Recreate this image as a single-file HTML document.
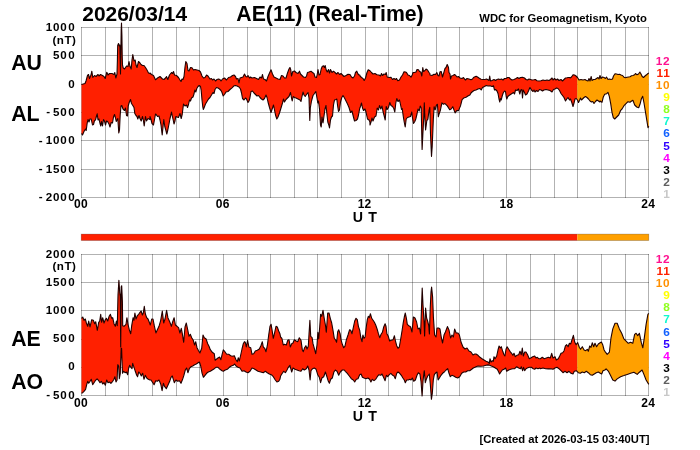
<!DOCTYPE html>
<html><head><meta charset="utf-8"><title>AE(11) (Real-Time)</title>
<style>html,body{margin:0;padding:0;background:#fff;}svg{display:block;font-family:"Liberation Sans",sans-serif;}</style>
</head><body>
<svg width="700" height="450" viewBox="0 0 700 450">
<rect width="700" height="450" fill="#fff"/>
<g stroke="#000" stroke-opacity="0.3" stroke-width="1" fill="none" shape-rendering="crispEdges"><line x1="81.50" y1="27" x2="81.50" y2="198"/><line x1="105.50" y1="27" x2="105.50" y2="198"/><line x1="128.50" y1="27" x2="128.50" y2="198"/><line x1="152.50" y1="27" x2="152.50" y2="198"/><line x1="176.50" y1="27" x2="176.50" y2="198"/><line x1="199.50" y1="27" x2="199.50" y2="198"/><line x1="223.50" y1="27" x2="223.50" y2="198"/><line x1="247.50" y1="27" x2="247.50" y2="198"/><line x1="270.50" y1="27" x2="270.50" y2="198"/><line x1="294.50" y1="27" x2="294.50" y2="198"/><line x1="317.50" y1="27" x2="317.50" y2="198"/><line x1="341.50" y1="27" x2="341.50" y2="198"/><line x1="365.50" y1="27" x2="365.50" y2="198"/><line x1="388.50" y1="27" x2="388.50" y2="198"/><line x1="412.50" y1="27" x2="412.50" y2="198"/><line x1="436.50" y1="27" x2="436.50" y2="198"/><line x1="459.50" y1="27" x2="459.50" y2="198"/><line x1="483.50" y1="27" x2="483.50" y2="198"/><line x1="506.50" y1="27" x2="506.50" y2="198"/><line x1="530.50" y1="27" x2="530.50" y2="198"/><line x1="554.50" y1="27" x2="554.50" y2="198"/><line x1="577.50" y1="27" x2="577.50" y2="198"/><line x1="601.50" y1="27" x2="601.50" y2="198"/><line x1="625.50" y1="27" x2="625.50" y2="198"/><line x1="648.50" y1="27" x2="648.50" y2="198"/><line x1="81" y1="27.50" x2="649" y2="27.50"/><line x1="81" y1="55.50" x2="649" y2="55.50"/><line x1="81" y1="84.50" x2="649" y2="84.50"/><line x1="81" y1="112.50" x2="649" y2="112.50"/><line x1="81" y1="140.50" x2="649" y2="140.50"/><line x1="81" y1="169.50" x2="649" y2="169.50"/><line x1="81" y1="197.50" x2="649" y2="197.50"/></g><g stroke="#000" stroke-opacity="0.3" stroke-width="1" fill="none" shape-rendering="crispEdges"><line x1="81.50" y1="254" x2="81.50" y2="396"/><line x1="105.50" y1="254" x2="105.50" y2="396"/><line x1="128.50" y1="254" x2="128.50" y2="396"/><line x1="152.50" y1="254" x2="152.50" y2="396"/><line x1="176.50" y1="254" x2="176.50" y2="396"/><line x1="199.50" y1="254" x2="199.50" y2="396"/><line x1="223.50" y1="254" x2="223.50" y2="396"/><line x1="247.50" y1="254" x2="247.50" y2="396"/><line x1="270.50" y1="254" x2="270.50" y2="396"/><line x1="294.50" y1="254" x2="294.50" y2="396"/><line x1="317.50" y1="254" x2="317.50" y2="396"/><line x1="341.50" y1="254" x2="341.50" y2="396"/><line x1="365.50" y1="254" x2="365.50" y2="396"/><line x1="388.50" y1="254" x2="388.50" y2="396"/><line x1="412.50" y1="254" x2="412.50" y2="396"/><line x1="436.50" y1="254" x2="436.50" y2="396"/><line x1="459.50" y1="254" x2="459.50" y2="396"/><line x1="483.50" y1="254" x2="483.50" y2="396"/><line x1="506.50" y1="254" x2="506.50" y2="396"/><line x1="530.50" y1="254" x2="530.50" y2="396"/><line x1="554.50" y1="254" x2="554.50" y2="396"/><line x1="577.50" y1="254" x2="577.50" y2="396"/><line x1="601.50" y1="254" x2="601.50" y2="396"/><line x1="625.50" y1="254" x2="625.50" y2="396"/><line x1="648.50" y1="254" x2="648.50" y2="396"/><line x1="81" y1="254.50" x2="649" y2="254.50"/><line x1="81" y1="282.50" x2="649" y2="282.50"/><line x1="81" y1="310.50" x2="649" y2="310.50"/><line x1="81" y1="339.50" x2="649" y2="339.50"/><line x1="81" y1="367.50" x2="649" y2="367.50"/><line x1="81" y1="395.50" x2="649" y2="395.50"/></g><clipPath id="cr1"><rect x="0" y="0" width="577.30" height="450"/></clipPath><clipPath id="co1"><rect x="577.30" y="0" width="200" height="450"/></clipPath><polygon points="81.5,84.5 85.0,83.5 86.0,81.0 87.5,75.5 88.5,74.5 89.5,78.5 91.0,75.0 91.8,71.2 92.8,77.5 94.5,75.5 96.0,76.5 98.0,74.5 99.0,76.0 100.5,74.5 102.5,75.5 104.0,76.5 105.2,78.5 106.8,72.2 108.0,75.0 109.5,73.5 112.0,73.5 114.0,74.5 114.8,72.5 115.8,78.0 117.0,74.0 117.4,60.0 117.7,45.5 118.5,43.5 119.3,46.0 119.8,45.0 120.2,60.0 120.5,74.0 120.8,55.0 121.2,30.0 121.5,23.0 121.9,35.0 122.2,55.0 122.5,65.0 123.2,67.8 124.5,69.0 126.5,66.0 128.0,66.5 129.0,61.5 130.0,66.5 131.2,69.0 132.0,60.0 132.8,54.5 134.0,61.0 135.2,60.0 136.0,65.0 137.0,67.5 138.5,61.5 140.0,63.0 141.0,64.5 142.5,65.5 144.0,65.5 145.5,67.5 147.0,70.0 148.5,73.0 149.9,73.5 150.0,73.0 151.5,74.5 153.5,75.5 155.5,79.8 157.5,78.0 160.0,76.5 162.5,79.0 164.0,79.5 166.0,77.5 166.5,76.5 167.8,79.5 169.5,75.0 171.5,72.5 172.5,73.5 173.5,71.5 174.5,75.0 176.5,75.5 178.5,77.5 180.0,80.0 181.0,81.5 182.0,79.0 183.0,79.5 184.0,76.5 185.0,67.0 185.8,61.5 187.0,63.5 188.0,70.5 189.0,71.0 190.5,67.5 192.0,67.8 193.5,70.0 195.0,69.5 197.0,70.0 199.0,70.5 200.5,72.0 202.0,76.0 203.5,78.0 205.0,77.5 206.5,75.0 208.0,76.0 210.0,79.0 211.5,78.5 212.5,80.0 214.0,79.0 215.5,81.0 217.0,79.5 218.5,79.0 219.9,79.5 220.0,79.5 221.0,81.0 222.5,79.0 224.5,78.0 226.5,80.0 228.5,77.5 230.5,77.0 232.5,75.5 234.0,75.0 235.5,76.5 236.5,79.0 238.0,78.5 239.0,83.0 240.0,78.0 241.5,77.5 243.0,77.0 244.5,74.0 245.8,76.5 247.0,77.0 248.0,75.5 249.5,78.0 250.5,77.0 252.0,78.0 254.5,77.5 256.5,78.5 258.5,79.5 260.0,77.0 261.5,78.0 262.5,74.5 263.5,79.0 265.0,79.5 266.5,81.0 268.0,76.5 269.5,73.0 271.0,69.8 272.5,74.0 274.0,77.0 276.0,78.0 278.0,79.0 280.0,79.5 281.5,75.5 283.0,76.0 284.5,78.0 286.0,78.0 287.5,73.0 289.0,69.0 289.9,67.5 290.0,67.5 290.8,70.0 291.5,76.0 292.8,71.5 294.5,71.0 296.0,72.5 298.0,73.5 299.5,71.2 300.5,74.0 302.0,75.5 303.5,77.0 305.5,77.5 306.5,76.0 307.5,72.5 309.0,72.0 311.0,71.2 312.5,72.5 314.0,73.5 315.0,77.0 316.5,77.5 317.2,74.5 318.0,69.5 319.0,75.0 320.0,74.5 321.2,69.0 322.2,66.5 323.5,65.8 324.5,67.5 325.2,65.5 326.2,70.0 327.2,72.0 328.5,69.5 329.5,73.0 330.5,69.5 332.0,72.5 333.5,71.2 335.0,72.5 336.5,74.0 338.0,72.5 339.5,74.5 341.0,73.5 342.5,75.0 344.0,76.5 346.0,75.5 348.0,74.2 350.0,74.5 351.5,77.0 353.0,78.0 354.5,76.0 355.5,72.5 356.8,71.2 358.0,74.0 359.0,75.0 359.9,75.0 360.0,76.0 361.5,77.5 363.0,78.5 364.2,80.5 365.5,78.0 367.0,72.5 368.2,69.8 370.0,70.8 371.5,72.5 373.0,74.0 375.0,73.5 377.0,74.8 379.0,75.0 380.5,76.0 381.5,73.5 382.5,75.5 384.0,74.0 385.5,74.5 386.2,72.5 387.2,77.0 389.0,77.5 391.0,77.2 392.5,79.5 394.0,78.5 395.5,79.5 396.5,78.5 397.8,80.8 399.5,80.0 401.0,77.0 402.5,75.0 404.0,71.8 405.5,72.0 406.5,72.5 408.0,75.0 409.5,75.5 411.0,77.2 412.2,75.0 413.0,72.5 414.5,72.5 416.0,72.0 417.0,69.5 418.5,69.8 419.5,71.5 420.8,72.0 421.8,76.0 422.8,67.5 423.5,71.5 425.0,70.5 426.0,69.0 427.5,70.0 429.0,72.5 429.9,73.5 430.0,75.0 432.0,75.5 434.0,74.2 435.5,74.5 436.8,72.5 438.0,75.5 439.0,76.0 440.0,71.8 441.2,71.5 442.5,77.0 444.0,72.0 445.0,68.5 446.0,67.5 447.2,64.5 448.5,67.5 449.0,72.5 450.0,74.0 450.5,79.0 451.5,76.0 453.0,75.5 454.5,74.5 455.8,75.5 457.0,77.0 458.5,76.5 460.0,78.0 462.0,78.5 463.5,77.5 464.5,79.0 465.5,80.0 467.0,78.5 469.0,79.0 471.0,79.8 472.5,79.0 473.5,77.5 475.0,76.8 476.2,76.3 477.5,77.0 479.0,78.0 481.0,79.2 483.0,79.5 485.0,79.5 486.5,79.0 488.0,79.8 489.0,80.5 489.7,76.0 490.5,81.0 492.0,80.5 494.0,79.5 495.5,80.5 497.0,79.5 498.5,79.0 499.9,79.5 500.0,79.5 501.5,79.0 503.0,80.0 504.5,78.5 506.0,78.5 507.5,77.5 509.0,77.5 510.5,79.0 512.0,80.0 514.0,79.5 516.0,78.5 517.5,77.5 519.0,78.5 520.5,77.5 522.5,77.2 524.5,78.0 526.0,79.5 527.5,80.0 529.0,79.0 530.5,79.5 532.0,80.0 534.0,79.8 535.5,79.5 537.0,80.8 539.0,81.0 541.0,80.8 543.0,80.0 545.0,80.5 547.0,80.0 549.0,80.5 550.5,79.5 552.0,78.0 553.0,80.0 554.5,78.5 556.0,80.0 557.5,79.0 559.0,80.5 561.0,79.5 562.5,81.0 564.0,79.5 565.5,78.0 567.0,77.8 568.5,77.5 569.9,77.5 570.0,78.0 571.5,77.0 573.0,74.8 574.5,75.0 576.0,76.0 577.5,77.5 579.0,80.0 581.0,79.5 583.0,80.0 585.0,79.5 586.5,80.5 588.0,81.0 589.0,78.5 590.0,81.0 591.2,76.5 592.0,80.5 593.5,79.5 595.0,79.5 596.5,78.5 598.0,77.5 599.0,79.0 600.0,75.5 601.0,78.5 602.5,77.0 604.0,77.5 605.5,78.5 606.5,77.0 608.0,79.5 609.5,79.0 611.0,79.5 612.5,79.0 613.5,76.0 615.0,73.8 616.5,74.0 618.0,74.5 619.5,74.2 621.0,75.0 622.5,75.5 624.0,77.2 625.5,77.8 627.0,77.2 628.5,77.0 630.0,76.8 631.5,75.8 633.0,75.5 634.5,74.8 635.5,73.5 637.0,74.8 638.5,74.0 639.9,72.0 640.0,72.2 641.0,74.0 642.2,76.5 643.5,77.5 645.0,76.0 646.5,74.8 648.0,73.5 648.8,73.0 648.8,126.3 648.0,127.7 646.7,119.7 645.3,111.0 644.0,103.0 642.7,96.3 641.3,99.0 640.0,104.3 638.7,107.7 636.7,107.0 634.7,105.0 632.9,100.3 631.6,101.0 630.0,102.3 628.0,101.7 626.0,103.7 624.0,105.7 622.0,109.0 620.7,110.3 618.7,115.0 616.7,117.0 614.7,119.0 613.3,117.7 612.0,112.3 610.7,103.7 609.3,96.3 608.0,92.3 606.7,93.7 604.7,94.3 603.3,97.0 602.0,102.3 600.0,101.0 599.9,102.0 598.5,101.0 597.0,100.0 595.5,101.5 594.0,103.5 592.8,101.5 591.5,102.0 590.0,101.0 588.5,99.0 587.0,97.5 585.5,96.5 584.0,97.5 582.5,99.0 581.5,100.0 580.5,98.0 579.5,100.5 578.5,102.5 577.5,100.0 576.2,98.5 575.0,99.0 574.0,103.0 573.0,106.5 571.8,102.5 570.5,99.0 569.5,100.0 568.0,97.5 566.8,99.0 565.5,101.0 564.0,97.5 562.5,95.5 561.0,93.5 559.5,90.5 558.0,88.5 556.5,88.0 555.0,89.0 553.5,89.5 552.0,92.0 550.0,90.5 548.0,90.0 546.0,89.5 544.0,90.0 542.5,91.0 541.0,90.0 539.5,89.5 538.0,91.5 536.5,90.5 535.0,92.0 534.0,90.0 533.0,91.5 531.5,90.0 530.0,87.5 529.9,87.5 528.5,91.0 527.0,94.0 525.5,95.0 524.5,92.5 523.2,90.0 522.5,98.0 521.8,89.5 520.8,90.0 519.8,94.0 518.5,89.0 517.0,90.5 515.5,90.0 514.5,94.0 513.5,92.5 512.0,93.5 510.5,94.5 509.0,95.5 507.8,96.5 506.8,99.0 506.2,96.5 505.5,91.5 504.5,91.0 503.2,93.0 502.2,96.0 501.2,100.0 500.5,98.5 499.8,102.0 499.0,99.0 498.0,93.5 497.0,91.0 495.5,89.5 494.5,90.0 493.5,85.8 492.0,86.5 490.0,85.8 488.0,86.0 486.2,85.5 484.5,86.5 482.5,87.5 481.2,90.0 480.0,88.5 478.0,89.0 476.0,90.0 474.0,90.5 472.0,92.0 471.0,93.0 469.9,95.0 468.3,95.8 466.0,97.3 463.7,98.1 462.1,99.7 460.5,105.9 458.5,110.6 456.7,110.6 455.1,112.9 452.8,106.7 451.2,109.0 449.7,109.8 447.3,105.9 445.0,103.6 443.4,104.3 441.9,102.8 440.3,110.6 439.2,113.7 438.3,116.8 437.4,104.3 436.4,105.1 435.2,109.8 434.1,106.7 433.3,119.9 432.2,146.3 431.5,156.4 430.5,133.9 429.8,107.4 429.0,110.6 427.9,119.1 426.8,120.7 425.6,130.0 424.9,118.3 424.3,102.8 423.7,118.3 422.8,135.4 422.1,149.4 421.2,108.0 420.2,106.0 419.2,111.0 418.0,109.0 417.0,114.0 415.8,119.0 414.8,121.5 413.5,123.5 412.5,118.0 411.8,112.0 410.5,116.5 409.0,117.0 407.5,117.5 406.2,119.0 405.2,127.0 404.2,122.0 403.2,116.0 402.2,108.5 401.5,109.5 400.5,104.5 399.5,100.0 398.0,101.5 396.8,98.5 395.8,103.0 394.8,112.0 393.8,108.5 392.5,106.5 391.0,105.5 389.8,102.5 388.5,107.5 387.2,109.5 386.2,106.5 385.2,120.0 384.2,116.0 383.0,111.5 382.0,106.0 380.8,109.0 379.5,105.5 378.5,110.0 377.2,108.0 376.0,116.0 374.5,117.0 373.0,121.0 372.0,118.0 371.0,122.0 370.0,125.0 369.9,122.0 369.0,120.0 367.5,119.0 366.0,112.0 365.0,109.0 363.5,110.5 362.5,108.0 361.5,103.0 360.5,106.5 359.7,108.5 358.5,115.0 357.5,119.0 356.0,120.5 354.5,121.0 353.2,116.0 352.0,111.0 350.5,112.5 349.0,107.5 347.5,104.0 346.0,101.0 344.5,98.0 343.0,95.5 341.8,97.5 340.5,102.0 339.5,110.0 338.5,111.5 337.5,105.0 336.8,99.0 336.0,99.5 334.5,100.0 333.5,105.0 332.5,116.0 331.5,117.0 330.5,120.0 329.5,128.0 328.8,125.0 327.8,122.0 326.8,113.0 326.0,105.5 325.0,109.0 324.0,116.0 323.0,123.0 322.0,117.0 321.2,127.0 320.5,125.0 319.5,109.0 318.5,101.0 317.8,103.0 316.8,97.0 315.8,91.5 314.5,93.5 313.0,95.5 311.5,101.0 310.3,108.0 309.8,120.5 309.4,110.0 309.0,98.0 308.0,92.5 306.5,94.5 305.2,96.5 304.0,95.0 303.0,92.0 302.0,96.5 301.0,101.5 300.0,100.0 298.0,99.0 296.0,98.0 294.5,97.5 293.2,96.5 292.2,101.0 291.5,98.0 290.5,92.5 289.0,96.5 287.5,98.0 286.0,99.5 284.5,102.0 283.5,99.0 282.5,103.0 281.0,108.0 279.5,113.0 278.0,117.0 276.8,119.0 275.5,115.0 274.5,110.0 273.5,105.0 272.5,108.0 271.0,112.5 269.5,107.5 268.0,102.0 267.0,97.5 266.0,95.0 264.5,98.5 263.0,100.0 261.5,99.0 260.0,97.5 258.5,95.5 257.0,96.0 255.5,94.5 254.0,93.0 252.5,91.0 251.0,91.5 249.9,98.0 249.0,101.0 248.0,102.5 246.5,99.0 245.5,98.0 244.0,100.0 242.5,98.5 241.5,93.0 240.5,89.0 239.0,87.0 237.0,86.0 235.5,85.5 234.0,85.8 232.0,87.8 230.0,89.5 228.0,91.5 226.0,92.0 224.5,94.5 223.2,96.0 222.0,92.5 221.0,90.5 219.5,89.0 218.0,88.0 216.5,87.5 215.0,89.5 214.0,93.5 213.0,92.5 211.5,95.0 210.0,97.5 208.5,99.0 207.0,101.5 205.5,104.0 204.0,108.0 203.3,109.5 202.8,107.0 202.0,100.0 201.2,90.5 200.5,86.5 199.2,85.5 198.0,86.5 196.8,88.5 195.8,92.0 194.8,90.0 194.0,94.0 193.0,97.0 191.5,98.0 190.5,101.0 189.5,100.0 188.5,104.5 187.5,107.5 186.5,105.0 185.0,106.0 183.5,104.0 182.2,114.5 181.2,118.5 180.0,113.5 178.5,117.5 177.0,117.0 175.8,116.5 175.0,121.0 174.0,124.0 173.2,120.0 172.5,117.0 171.5,112.0 171.0,114.5 170.0,118.5 169.0,124.0 167.8,130.0 166.8,134.0 165.8,130.0 164.8,126.5 163.8,119.5 163.2,125.0 162.2,135.0 161.0,125.0 160.0,120.0 159.0,116.0 157.5,116.5 156.5,115.0 155.5,114.0 154.5,119.5 153.5,125.0 152.0,123.5 151.0,119.5 150.0,116.5 149.9,119.5 148.0,118.5 146.5,121.0 145.5,116.5 144.2,126.0 143.5,121.0 142.5,116.5 141.2,121.0 140.0,118.5 139.0,115.5 137.8,119.0 137.0,116.5 136.0,115.5 134.8,113.5 134.0,107.5 132.8,105.5 131.5,103.5 130.5,99.5 129.2,102.5 128.2,106.0 127.5,116.0 126.5,115.5 125.5,108.0 124.5,110.5 123.0,109.0 121.8,105.5 121.0,106.0 120.2,115.0 119.5,130.0 118.8,133.0 117.8,118.5 116.2,121.5 115.5,118.0 114.5,114.5 113.5,117.0 112.5,123.0 111.2,122.5 110.0,127.0 109.0,124.0 107.5,121.5 106.5,121.0 105.5,125.0 104.5,121.0 103.5,119.5 102.5,126.0 101.5,121.5 100.8,126.0 100.0,123.5 99.0,119.0 98.0,120.0 97.2,113.8 96.5,116.0 95.5,120.0 94.5,120.5 93.5,124.5 92.5,125.0 91.2,119.0 90.0,119.0 89.0,122.0 88.0,119.5 87.2,123.0 86.2,130.5 85.5,129.0 84.0,131.5 82.5,135.0 81.5,133.5" fill="#ff2000" clip-path="url(#cr1)"/><polygon points="81.5,84.5 85.0,83.5 86.0,81.0 87.5,75.5 88.5,74.5 89.5,78.5 91.0,75.0 91.8,71.2 92.8,77.5 94.5,75.5 96.0,76.5 98.0,74.5 99.0,76.0 100.5,74.5 102.5,75.5 104.0,76.5 105.2,78.5 106.8,72.2 108.0,75.0 109.5,73.5 112.0,73.5 114.0,74.5 114.8,72.5 115.8,78.0 117.0,74.0 117.4,60.0 117.7,45.5 118.5,43.5 119.3,46.0 119.8,45.0 120.2,60.0 120.5,74.0 120.8,55.0 121.2,30.0 121.5,23.0 121.9,35.0 122.2,55.0 122.5,65.0 123.2,67.8 124.5,69.0 126.5,66.0 128.0,66.5 129.0,61.5 130.0,66.5 131.2,69.0 132.0,60.0 132.8,54.5 134.0,61.0 135.2,60.0 136.0,65.0 137.0,67.5 138.5,61.5 140.0,63.0 141.0,64.5 142.5,65.5 144.0,65.5 145.5,67.5 147.0,70.0 148.5,73.0 149.9,73.5 150.0,73.0 151.5,74.5 153.5,75.5 155.5,79.8 157.5,78.0 160.0,76.5 162.5,79.0 164.0,79.5 166.0,77.5 166.5,76.5 167.8,79.5 169.5,75.0 171.5,72.5 172.5,73.5 173.5,71.5 174.5,75.0 176.5,75.5 178.5,77.5 180.0,80.0 181.0,81.5 182.0,79.0 183.0,79.5 184.0,76.5 185.0,67.0 185.8,61.5 187.0,63.5 188.0,70.5 189.0,71.0 190.5,67.5 192.0,67.8 193.5,70.0 195.0,69.5 197.0,70.0 199.0,70.5 200.5,72.0 202.0,76.0 203.5,78.0 205.0,77.5 206.5,75.0 208.0,76.0 210.0,79.0 211.5,78.5 212.5,80.0 214.0,79.0 215.5,81.0 217.0,79.5 218.5,79.0 219.9,79.5 220.0,79.5 221.0,81.0 222.5,79.0 224.5,78.0 226.5,80.0 228.5,77.5 230.5,77.0 232.5,75.5 234.0,75.0 235.5,76.5 236.5,79.0 238.0,78.5 239.0,83.0 240.0,78.0 241.5,77.5 243.0,77.0 244.5,74.0 245.8,76.5 247.0,77.0 248.0,75.5 249.5,78.0 250.5,77.0 252.0,78.0 254.5,77.5 256.5,78.5 258.5,79.5 260.0,77.0 261.5,78.0 262.5,74.5 263.5,79.0 265.0,79.5 266.5,81.0 268.0,76.5 269.5,73.0 271.0,69.8 272.5,74.0 274.0,77.0 276.0,78.0 278.0,79.0 280.0,79.5 281.5,75.5 283.0,76.0 284.5,78.0 286.0,78.0 287.5,73.0 289.0,69.0 289.9,67.5 290.0,67.5 290.8,70.0 291.5,76.0 292.8,71.5 294.5,71.0 296.0,72.5 298.0,73.5 299.5,71.2 300.5,74.0 302.0,75.5 303.5,77.0 305.5,77.5 306.5,76.0 307.5,72.5 309.0,72.0 311.0,71.2 312.5,72.5 314.0,73.5 315.0,77.0 316.5,77.5 317.2,74.5 318.0,69.5 319.0,75.0 320.0,74.5 321.2,69.0 322.2,66.5 323.5,65.8 324.5,67.5 325.2,65.5 326.2,70.0 327.2,72.0 328.5,69.5 329.5,73.0 330.5,69.5 332.0,72.5 333.5,71.2 335.0,72.5 336.5,74.0 338.0,72.5 339.5,74.5 341.0,73.5 342.5,75.0 344.0,76.5 346.0,75.5 348.0,74.2 350.0,74.5 351.5,77.0 353.0,78.0 354.5,76.0 355.5,72.5 356.8,71.2 358.0,74.0 359.0,75.0 359.9,75.0 360.0,76.0 361.5,77.5 363.0,78.5 364.2,80.5 365.5,78.0 367.0,72.5 368.2,69.8 370.0,70.8 371.5,72.5 373.0,74.0 375.0,73.5 377.0,74.8 379.0,75.0 380.5,76.0 381.5,73.5 382.5,75.5 384.0,74.0 385.5,74.5 386.2,72.5 387.2,77.0 389.0,77.5 391.0,77.2 392.5,79.5 394.0,78.5 395.5,79.5 396.5,78.5 397.8,80.8 399.5,80.0 401.0,77.0 402.5,75.0 404.0,71.8 405.5,72.0 406.5,72.5 408.0,75.0 409.5,75.5 411.0,77.2 412.2,75.0 413.0,72.5 414.5,72.5 416.0,72.0 417.0,69.5 418.5,69.8 419.5,71.5 420.8,72.0 421.8,76.0 422.8,67.5 423.5,71.5 425.0,70.5 426.0,69.0 427.5,70.0 429.0,72.5 429.9,73.5 430.0,75.0 432.0,75.5 434.0,74.2 435.5,74.5 436.8,72.5 438.0,75.5 439.0,76.0 440.0,71.8 441.2,71.5 442.5,77.0 444.0,72.0 445.0,68.5 446.0,67.5 447.2,64.5 448.5,67.5 449.0,72.5 450.0,74.0 450.5,79.0 451.5,76.0 453.0,75.5 454.5,74.5 455.8,75.5 457.0,77.0 458.5,76.5 460.0,78.0 462.0,78.5 463.5,77.5 464.5,79.0 465.5,80.0 467.0,78.5 469.0,79.0 471.0,79.8 472.5,79.0 473.5,77.5 475.0,76.8 476.2,76.3 477.5,77.0 479.0,78.0 481.0,79.2 483.0,79.5 485.0,79.5 486.5,79.0 488.0,79.8 489.0,80.5 489.7,76.0 490.5,81.0 492.0,80.5 494.0,79.5 495.5,80.5 497.0,79.5 498.5,79.0 499.9,79.5 500.0,79.5 501.5,79.0 503.0,80.0 504.5,78.5 506.0,78.5 507.5,77.5 509.0,77.5 510.5,79.0 512.0,80.0 514.0,79.5 516.0,78.5 517.5,77.5 519.0,78.5 520.5,77.5 522.5,77.2 524.5,78.0 526.0,79.5 527.5,80.0 529.0,79.0 530.5,79.5 532.0,80.0 534.0,79.8 535.5,79.5 537.0,80.8 539.0,81.0 541.0,80.8 543.0,80.0 545.0,80.5 547.0,80.0 549.0,80.5 550.5,79.5 552.0,78.0 553.0,80.0 554.5,78.5 556.0,80.0 557.5,79.0 559.0,80.5 561.0,79.5 562.5,81.0 564.0,79.5 565.5,78.0 567.0,77.8 568.5,77.5 569.9,77.5 570.0,78.0 571.5,77.0 573.0,74.8 574.5,75.0 576.0,76.0 577.5,77.5 579.0,80.0 581.0,79.5 583.0,80.0 585.0,79.5 586.5,80.5 588.0,81.0 589.0,78.5 590.0,81.0 591.2,76.5 592.0,80.5 593.5,79.5 595.0,79.5 596.5,78.5 598.0,77.5 599.0,79.0 600.0,75.5 601.0,78.5 602.5,77.0 604.0,77.5 605.5,78.5 606.5,77.0 608.0,79.5 609.5,79.0 611.0,79.5 612.5,79.0 613.5,76.0 615.0,73.8 616.5,74.0 618.0,74.5 619.5,74.2 621.0,75.0 622.5,75.5 624.0,77.2 625.5,77.8 627.0,77.2 628.5,77.0 630.0,76.8 631.5,75.8 633.0,75.5 634.5,74.8 635.5,73.5 637.0,74.8 638.5,74.0 639.9,72.0 640.0,72.2 641.0,74.0 642.2,76.5 643.5,77.5 645.0,76.0 646.5,74.8 648.0,73.5 648.8,73.0 648.8,126.3 648.0,127.7 646.7,119.7 645.3,111.0 644.0,103.0 642.7,96.3 641.3,99.0 640.0,104.3 638.7,107.7 636.7,107.0 634.7,105.0 632.9,100.3 631.6,101.0 630.0,102.3 628.0,101.7 626.0,103.7 624.0,105.7 622.0,109.0 620.7,110.3 618.7,115.0 616.7,117.0 614.7,119.0 613.3,117.7 612.0,112.3 610.7,103.7 609.3,96.3 608.0,92.3 606.7,93.7 604.7,94.3 603.3,97.0 602.0,102.3 600.0,101.0 599.9,102.0 598.5,101.0 597.0,100.0 595.5,101.5 594.0,103.5 592.8,101.5 591.5,102.0 590.0,101.0 588.5,99.0 587.0,97.5 585.5,96.5 584.0,97.5 582.5,99.0 581.5,100.0 580.5,98.0 579.5,100.5 578.5,102.5 577.5,100.0 576.2,98.5 575.0,99.0 574.0,103.0 573.0,106.5 571.8,102.5 570.5,99.0 569.5,100.0 568.0,97.5 566.8,99.0 565.5,101.0 564.0,97.5 562.5,95.5 561.0,93.5 559.5,90.5 558.0,88.5 556.5,88.0 555.0,89.0 553.5,89.5 552.0,92.0 550.0,90.5 548.0,90.0 546.0,89.5 544.0,90.0 542.5,91.0 541.0,90.0 539.5,89.5 538.0,91.5 536.5,90.5 535.0,92.0 534.0,90.0 533.0,91.5 531.5,90.0 530.0,87.5 529.9,87.5 528.5,91.0 527.0,94.0 525.5,95.0 524.5,92.5 523.2,90.0 522.5,98.0 521.8,89.5 520.8,90.0 519.8,94.0 518.5,89.0 517.0,90.5 515.5,90.0 514.5,94.0 513.5,92.5 512.0,93.5 510.5,94.5 509.0,95.5 507.8,96.5 506.8,99.0 506.2,96.5 505.5,91.5 504.5,91.0 503.2,93.0 502.2,96.0 501.2,100.0 500.5,98.5 499.8,102.0 499.0,99.0 498.0,93.5 497.0,91.0 495.5,89.5 494.5,90.0 493.5,85.8 492.0,86.5 490.0,85.8 488.0,86.0 486.2,85.5 484.5,86.5 482.5,87.5 481.2,90.0 480.0,88.5 478.0,89.0 476.0,90.0 474.0,90.5 472.0,92.0 471.0,93.0 469.9,95.0 468.3,95.8 466.0,97.3 463.7,98.1 462.1,99.7 460.5,105.9 458.5,110.6 456.7,110.6 455.1,112.9 452.8,106.7 451.2,109.0 449.7,109.8 447.3,105.9 445.0,103.6 443.4,104.3 441.9,102.8 440.3,110.6 439.2,113.7 438.3,116.8 437.4,104.3 436.4,105.1 435.2,109.8 434.1,106.7 433.3,119.9 432.2,146.3 431.5,156.4 430.5,133.9 429.8,107.4 429.0,110.6 427.9,119.1 426.8,120.7 425.6,130.0 424.9,118.3 424.3,102.8 423.7,118.3 422.8,135.4 422.1,149.4 421.2,108.0 420.2,106.0 419.2,111.0 418.0,109.0 417.0,114.0 415.8,119.0 414.8,121.5 413.5,123.5 412.5,118.0 411.8,112.0 410.5,116.5 409.0,117.0 407.5,117.5 406.2,119.0 405.2,127.0 404.2,122.0 403.2,116.0 402.2,108.5 401.5,109.5 400.5,104.5 399.5,100.0 398.0,101.5 396.8,98.5 395.8,103.0 394.8,112.0 393.8,108.5 392.5,106.5 391.0,105.5 389.8,102.5 388.5,107.5 387.2,109.5 386.2,106.5 385.2,120.0 384.2,116.0 383.0,111.5 382.0,106.0 380.8,109.0 379.5,105.5 378.5,110.0 377.2,108.0 376.0,116.0 374.5,117.0 373.0,121.0 372.0,118.0 371.0,122.0 370.0,125.0 369.9,122.0 369.0,120.0 367.5,119.0 366.0,112.0 365.0,109.0 363.5,110.5 362.5,108.0 361.5,103.0 360.5,106.5 359.7,108.5 358.5,115.0 357.5,119.0 356.0,120.5 354.5,121.0 353.2,116.0 352.0,111.0 350.5,112.5 349.0,107.5 347.5,104.0 346.0,101.0 344.5,98.0 343.0,95.5 341.8,97.5 340.5,102.0 339.5,110.0 338.5,111.5 337.5,105.0 336.8,99.0 336.0,99.5 334.5,100.0 333.5,105.0 332.5,116.0 331.5,117.0 330.5,120.0 329.5,128.0 328.8,125.0 327.8,122.0 326.8,113.0 326.0,105.5 325.0,109.0 324.0,116.0 323.0,123.0 322.0,117.0 321.2,127.0 320.5,125.0 319.5,109.0 318.5,101.0 317.8,103.0 316.8,97.0 315.8,91.5 314.5,93.5 313.0,95.5 311.5,101.0 310.3,108.0 309.8,120.5 309.4,110.0 309.0,98.0 308.0,92.5 306.5,94.5 305.2,96.5 304.0,95.0 303.0,92.0 302.0,96.5 301.0,101.5 300.0,100.0 298.0,99.0 296.0,98.0 294.5,97.5 293.2,96.5 292.2,101.0 291.5,98.0 290.5,92.5 289.0,96.5 287.5,98.0 286.0,99.5 284.5,102.0 283.5,99.0 282.5,103.0 281.0,108.0 279.5,113.0 278.0,117.0 276.8,119.0 275.5,115.0 274.5,110.0 273.5,105.0 272.5,108.0 271.0,112.5 269.5,107.5 268.0,102.0 267.0,97.5 266.0,95.0 264.5,98.5 263.0,100.0 261.5,99.0 260.0,97.5 258.5,95.5 257.0,96.0 255.5,94.5 254.0,93.0 252.5,91.0 251.0,91.5 249.9,98.0 249.0,101.0 248.0,102.5 246.5,99.0 245.5,98.0 244.0,100.0 242.5,98.5 241.5,93.0 240.5,89.0 239.0,87.0 237.0,86.0 235.5,85.5 234.0,85.8 232.0,87.8 230.0,89.5 228.0,91.5 226.0,92.0 224.5,94.5 223.2,96.0 222.0,92.5 221.0,90.5 219.5,89.0 218.0,88.0 216.5,87.5 215.0,89.5 214.0,93.5 213.0,92.5 211.5,95.0 210.0,97.5 208.5,99.0 207.0,101.5 205.5,104.0 204.0,108.0 203.3,109.5 202.8,107.0 202.0,100.0 201.2,90.5 200.5,86.5 199.2,85.5 198.0,86.5 196.8,88.5 195.8,92.0 194.8,90.0 194.0,94.0 193.0,97.0 191.5,98.0 190.5,101.0 189.5,100.0 188.5,104.5 187.5,107.5 186.5,105.0 185.0,106.0 183.5,104.0 182.2,114.5 181.2,118.5 180.0,113.5 178.5,117.5 177.0,117.0 175.8,116.5 175.0,121.0 174.0,124.0 173.2,120.0 172.5,117.0 171.5,112.0 171.0,114.5 170.0,118.5 169.0,124.0 167.8,130.0 166.8,134.0 165.8,130.0 164.8,126.5 163.8,119.5 163.2,125.0 162.2,135.0 161.0,125.0 160.0,120.0 159.0,116.0 157.5,116.5 156.5,115.0 155.5,114.0 154.5,119.5 153.5,125.0 152.0,123.5 151.0,119.5 150.0,116.5 149.9,119.5 148.0,118.5 146.5,121.0 145.5,116.5 144.2,126.0 143.5,121.0 142.5,116.5 141.2,121.0 140.0,118.5 139.0,115.5 137.8,119.0 137.0,116.5 136.0,115.5 134.8,113.5 134.0,107.5 132.8,105.5 131.5,103.5 130.5,99.5 129.2,102.5 128.2,106.0 127.5,116.0 126.5,115.5 125.5,108.0 124.5,110.5 123.0,109.0 121.8,105.5 121.0,106.0 120.2,115.0 119.5,130.0 118.8,133.0 117.8,118.5 116.2,121.5 115.5,118.0 114.5,114.5 113.5,117.0 112.5,123.0 111.2,122.5 110.0,127.0 109.0,124.0 107.5,121.5 106.5,121.0 105.5,125.0 104.5,121.0 103.5,119.5 102.5,126.0 101.5,121.5 100.8,126.0 100.0,123.5 99.0,119.0 98.0,120.0 97.2,113.8 96.5,116.0 95.5,120.0 94.5,120.5 93.5,124.5 92.5,125.0 91.2,119.0 90.0,119.0 89.0,122.0 88.0,119.5 87.2,123.0 86.2,130.5 85.5,129.0 84.0,131.5 82.5,135.0 81.5,133.5" fill="#ffa000" clip-path="url(#co1)"/><polyline points="81.5,84.5 85.0,83.5 86.0,81.0 87.5,75.5 88.5,74.5 89.5,78.5 91.0,75.0 91.8,71.2 92.8,77.5 94.5,75.5 96.0,76.5 98.0,74.5 99.0,76.0 100.5,74.5 102.5,75.5 104.0,76.5 105.2,78.5 106.8,72.2 108.0,75.0 109.5,73.5 112.0,73.5 114.0,74.5 114.8,72.5 115.8,78.0 117.0,74.0 117.4,60.0 117.7,45.5 118.5,43.5 119.3,46.0 119.8,45.0 120.2,60.0 120.5,74.0 120.8,55.0 121.2,30.0 121.5,23.0 121.9,35.0 122.2,55.0 122.5,65.0 123.2,67.8 124.5,69.0 126.5,66.0 128.0,66.5 129.0,61.5 130.0,66.5 131.2,69.0 132.0,60.0 132.8,54.5 134.0,61.0 135.2,60.0 136.0,65.0 137.0,67.5 138.5,61.5 140.0,63.0 141.0,64.5 142.5,65.5 144.0,65.5 145.5,67.5 147.0,70.0 148.5,73.0 149.9,73.5 150.0,73.0 151.5,74.5 153.5,75.5 155.5,79.8 157.5,78.0 160.0,76.5 162.5,79.0 164.0,79.5 166.0,77.5 166.5,76.5 167.8,79.5 169.5,75.0 171.5,72.5 172.5,73.5 173.5,71.5 174.5,75.0 176.5,75.5 178.5,77.5 180.0,80.0 181.0,81.5 182.0,79.0 183.0,79.5 184.0,76.5 185.0,67.0 185.8,61.5 187.0,63.5 188.0,70.5 189.0,71.0 190.5,67.5 192.0,67.8 193.5,70.0 195.0,69.5 197.0,70.0 199.0,70.5 200.5,72.0 202.0,76.0 203.5,78.0 205.0,77.5 206.5,75.0 208.0,76.0 210.0,79.0 211.5,78.5 212.5,80.0 214.0,79.0 215.5,81.0 217.0,79.5 218.5,79.0 219.9,79.5 220.0,79.5 221.0,81.0 222.5,79.0 224.5,78.0 226.5,80.0 228.5,77.5 230.5,77.0 232.5,75.5 234.0,75.0 235.5,76.5 236.5,79.0 238.0,78.5 239.0,83.0 240.0,78.0 241.5,77.5 243.0,77.0 244.5,74.0 245.8,76.5 247.0,77.0 248.0,75.5 249.5,78.0 250.5,77.0 252.0,78.0 254.5,77.5 256.5,78.5 258.5,79.5 260.0,77.0 261.5,78.0 262.5,74.5 263.5,79.0 265.0,79.5 266.5,81.0 268.0,76.5 269.5,73.0 271.0,69.8 272.5,74.0 274.0,77.0 276.0,78.0 278.0,79.0 280.0,79.5 281.5,75.5 283.0,76.0 284.5,78.0 286.0,78.0 287.5,73.0 289.0,69.0 289.9,67.5 290.0,67.5 290.8,70.0 291.5,76.0 292.8,71.5 294.5,71.0 296.0,72.5 298.0,73.5 299.5,71.2 300.5,74.0 302.0,75.5 303.5,77.0 305.5,77.5 306.5,76.0 307.5,72.5 309.0,72.0 311.0,71.2 312.5,72.5 314.0,73.5 315.0,77.0 316.5,77.5 317.2,74.5 318.0,69.5 319.0,75.0 320.0,74.5 321.2,69.0 322.2,66.5 323.5,65.8 324.5,67.5 325.2,65.5 326.2,70.0 327.2,72.0 328.5,69.5 329.5,73.0 330.5,69.5 332.0,72.5 333.5,71.2 335.0,72.5 336.5,74.0 338.0,72.5 339.5,74.5 341.0,73.5 342.5,75.0 344.0,76.5 346.0,75.5 348.0,74.2 350.0,74.5 351.5,77.0 353.0,78.0 354.5,76.0 355.5,72.5 356.8,71.2 358.0,74.0 359.0,75.0 359.9,75.0 360.0,76.0 361.5,77.5 363.0,78.5 364.2,80.5 365.5,78.0 367.0,72.5 368.2,69.8 370.0,70.8 371.5,72.5 373.0,74.0 375.0,73.5 377.0,74.8 379.0,75.0 380.5,76.0 381.5,73.5 382.5,75.5 384.0,74.0 385.5,74.5 386.2,72.5 387.2,77.0 389.0,77.5 391.0,77.2 392.5,79.5 394.0,78.5 395.5,79.5 396.5,78.5 397.8,80.8 399.5,80.0 401.0,77.0 402.5,75.0 404.0,71.8 405.5,72.0 406.5,72.5 408.0,75.0 409.5,75.5 411.0,77.2 412.2,75.0 413.0,72.5 414.5,72.5 416.0,72.0 417.0,69.5 418.5,69.8 419.5,71.5 420.8,72.0 421.8,76.0 422.8,67.5 423.5,71.5 425.0,70.5 426.0,69.0 427.5,70.0 429.0,72.5 429.9,73.5 430.0,75.0 432.0,75.5 434.0,74.2 435.5,74.5 436.8,72.5 438.0,75.5 439.0,76.0 440.0,71.8 441.2,71.5 442.5,77.0 444.0,72.0 445.0,68.5 446.0,67.5 447.2,64.5 448.5,67.5 449.0,72.5 450.0,74.0 450.5,79.0 451.5,76.0 453.0,75.5 454.5,74.5 455.8,75.5 457.0,77.0 458.5,76.5 460.0,78.0 462.0,78.5 463.5,77.5 464.5,79.0 465.5,80.0 467.0,78.5 469.0,79.0 471.0,79.8 472.5,79.0 473.5,77.5 475.0,76.8 476.2,76.3 477.5,77.0 479.0,78.0 481.0,79.2 483.0,79.5 485.0,79.5 486.5,79.0 488.0,79.8 489.0,80.5 489.7,76.0 490.5,81.0 492.0,80.5 494.0,79.5 495.5,80.5 497.0,79.5 498.5,79.0 499.9,79.5 500.0,79.5 501.5,79.0 503.0,80.0 504.5,78.5 506.0,78.5 507.5,77.5 509.0,77.5 510.5,79.0 512.0,80.0 514.0,79.5 516.0,78.5 517.5,77.5 519.0,78.5 520.5,77.5 522.5,77.2 524.5,78.0 526.0,79.5 527.5,80.0 529.0,79.0 530.5,79.5 532.0,80.0 534.0,79.8 535.5,79.5 537.0,80.8 539.0,81.0 541.0,80.8 543.0,80.0 545.0,80.5 547.0,80.0 549.0,80.5 550.5,79.5 552.0,78.0 553.0,80.0 554.5,78.5 556.0,80.0 557.5,79.0 559.0,80.5 561.0,79.5 562.5,81.0 564.0,79.5 565.5,78.0 567.0,77.8 568.5,77.5 569.9,77.5 570.0,78.0 571.5,77.0 573.0,74.8 574.5,75.0 576.0,76.0 577.5,77.5 579.0,80.0 581.0,79.5 583.0,80.0 585.0,79.5 586.5,80.5 588.0,81.0 589.0,78.5 590.0,81.0 591.2,76.5 592.0,80.5 593.5,79.5 595.0,79.5 596.5,78.5 598.0,77.5 599.0,79.0 600.0,75.5 601.0,78.5 602.5,77.0 604.0,77.5 605.5,78.5 606.5,77.0 608.0,79.5 609.5,79.0 611.0,79.5 612.5,79.0 613.5,76.0 615.0,73.8 616.5,74.0 618.0,74.5 619.5,74.2 621.0,75.0 622.5,75.5 624.0,77.2 625.5,77.8 627.0,77.2 628.5,77.0 630.0,76.8 631.5,75.8 633.0,75.5 634.5,74.8 635.5,73.5 637.0,74.8 638.5,74.0 639.9,72.0 640.0,72.2 641.0,74.0 642.2,76.5 643.5,77.5 645.0,76.0 646.5,74.8 648.0,73.5 648.8,73.0" fill="none" stroke="#200000" stroke-width="1.1" stroke-linejoin="round"/><polyline points="81.5,133.5 82.5,135.0 84.0,131.5 85.5,129.0 86.2,130.5 87.2,123.0 88.0,119.5 89.0,122.0 90.0,119.0 91.2,119.0 92.5,125.0 93.5,124.5 94.5,120.5 95.5,120.0 96.5,116.0 97.2,113.8 98.0,120.0 99.0,119.0 100.0,123.5 100.8,126.0 101.5,121.5 102.5,126.0 103.5,119.5 104.5,121.0 105.5,125.0 106.5,121.0 107.5,121.5 109.0,124.0 110.0,127.0 111.2,122.5 112.5,123.0 113.5,117.0 114.5,114.5 115.5,118.0 116.2,121.5 117.8,118.5 118.8,133.0 119.5,130.0 120.2,115.0 121.0,106.0 121.8,105.5 123.0,109.0 124.5,110.5 125.5,108.0 126.5,115.5 127.5,116.0 128.2,106.0 129.2,102.5 130.5,99.5 131.5,103.5 132.8,105.5 134.0,107.5 134.8,113.5 136.0,115.5 137.0,116.5 137.8,119.0 139.0,115.5 140.0,118.5 141.2,121.0 142.5,116.5 143.5,121.0 144.2,126.0 145.5,116.5 146.5,121.0 148.0,118.5 149.9,119.5 150.0,116.5 151.0,119.5 152.0,123.5 153.5,125.0 154.5,119.5 155.5,114.0 156.5,115.0 157.5,116.5 159.0,116.0 160.0,120.0 161.0,125.0 162.2,135.0 163.2,125.0 163.8,119.5 164.8,126.5 165.8,130.0 166.8,134.0 167.8,130.0 169.0,124.0 170.0,118.5 171.0,114.5 171.5,112.0 172.5,117.0 173.2,120.0 174.0,124.0 175.0,121.0 175.8,116.5 177.0,117.0 178.5,117.5 180.0,113.5 181.2,118.5 182.2,114.5 183.5,104.0 185.0,106.0 186.5,105.0 187.5,107.5 188.5,104.5 189.5,100.0 190.5,101.0 191.5,98.0 193.0,97.0 194.0,94.0 194.8,90.0 195.8,92.0 196.8,88.5 198.0,86.5 199.2,85.5 200.5,86.5 201.2,90.5 202.0,100.0 202.8,107.0 203.3,109.5 204.0,108.0 205.5,104.0 207.0,101.5 208.5,99.0 210.0,97.5 211.5,95.0 213.0,92.5 214.0,93.5 215.0,89.5 216.5,87.5 218.0,88.0 219.5,89.0 221.0,90.5 222.0,92.5 223.2,96.0 224.5,94.5 226.0,92.0 228.0,91.5 230.0,89.5 232.0,87.8 234.0,85.8 235.5,85.5 237.0,86.0 239.0,87.0 240.5,89.0 241.5,93.0 242.5,98.5 244.0,100.0 245.5,98.0 246.5,99.0 248.0,102.5 249.0,101.0 249.9,98.0 251.0,91.5 252.5,91.0 254.0,93.0 255.5,94.5 257.0,96.0 258.5,95.5 260.0,97.5 261.5,99.0 263.0,100.0 264.5,98.5 266.0,95.0 267.0,97.5 268.0,102.0 269.5,107.5 271.0,112.5 272.5,108.0 273.5,105.0 274.5,110.0 275.5,115.0 276.8,119.0 278.0,117.0 279.5,113.0 281.0,108.0 282.5,103.0 283.5,99.0 284.5,102.0 286.0,99.5 287.5,98.0 289.0,96.5 290.5,92.5 291.5,98.0 292.2,101.0 293.2,96.5 294.5,97.5 296.0,98.0 298.0,99.0 300.0,100.0 301.0,101.5 302.0,96.5 303.0,92.0 304.0,95.0 305.2,96.5 306.5,94.5 308.0,92.5 309.0,98.0 309.4,110.0 309.8,120.5 310.3,108.0 311.5,101.0 313.0,95.5 314.5,93.5 315.8,91.5 316.8,97.0 317.8,103.0 318.5,101.0 319.5,109.0 320.5,125.0 321.2,127.0 322.0,117.0 323.0,123.0 324.0,116.0 325.0,109.0 326.0,105.5 326.8,113.0 327.8,122.0 328.8,125.0 329.5,128.0 330.5,120.0 331.5,117.0 332.5,116.0 333.5,105.0 334.5,100.0 336.0,99.5 336.8,99.0 337.5,105.0 338.5,111.5 339.5,110.0 340.5,102.0 341.8,97.5 343.0,95.5 344.5,98.0 346.0,101.0 347.5,104.0 349.0,107.5 350.5,112.5 352.0,111.0 353.2,116.0 354.5,121.0 356.0,120.5 357.5,119.0 358.5,115.0 359.7,108.5 360.5,106.5 361.5,103.0 362.5,108.0 363.5,110.5 365.0,109.0 366.0,112.0 367.5,119.0 369.0,120.0 369.9,122.0 370.0,125.0 371.0,122.0 372.0,118.0 373.0,121.0 374.5,117.0 376.0,116.0 377.2,108.0 378.5,110.0 379.5,105.5 380.8,109.0 382.0,106.0 383.0,111.5 384.2,116.0 385.2,120.0 386.2,106.5 387.2,109.5 388.5,107.5 389.8,102.5 391.0,105.5 392.5,106.5 393.8,108.5 394.8,112.0 395.8,103.0 396.8,98.5 398.0,101.5 399.5,100.0 400.5,104.5 401.5,109.5 402.2,108.5 403.2,116.0 404.2,122.0 405.2,127.0 406.2,119.0 407.5,117.5 409.0,117.0 410.5,116.5 411.8,112.0 412.5,118.0 413.5,123.5 414.8,121.5 415.8,119.0 417.0,114.0 418.0,109.0 419.2,111.0 420.2,106.0 421.2,108.0 422.1,149.4 422.8,135.4 423.7,118.3 424.3,102.8 424.9,118.3 425.6,130.0 426.8,120.7 427.9,119.1 429.0,110.6 429.8,107.4 430.5,133.9 431.5,156.4 432.2,146.3 433.3,119.9 434.1,106.7 435.2,109.8 436.4,105.1 437.4,104.3 438.3,116.8 439.2,113.7 440.3,110.6 441.9,102.8 443.4,104.3 445.0,103.6 447.3,105.9 449.7,109.8 451.2,109.0 452.8,106.7 455.1,112.9 456.7,110.6 458.5,110.6 460.5,105.9 462.1,99.7 463.7,98.1 466.0,97.3 468.3,95.8 469.9,95.0 471.0,93.0 472.0,92.0 474.0,90.5 476.0,90.0 478.0,89.0 480.0,88.5 481.2,90.0 482.5,87.5 484.5,86.5 486.2,85.5 488.0,86.0 490.0,85.8 492.0,86.5 493.5,85.8 494.5,90.0 495.5,89.5 497.0,91.0 498.0,93.5 499.0,99.0 499.8,102.0 500.5,98.5 501.2,100.0 502.2,96.0 503.2,93.0 504.5,91.0 505.5,91.5 506.2,96.5 506.8,99.0 507.8,96.5 509.0,95.5 510.5,94.5 512.0,93.5 513.5,92.5 514.5,94.0 515.5,90.0 517.0,90.5 518.5,89.0 519.8,94.0 520.8,90.0 521.8,89.5 522.5,98.0 523.2,90.0 524.5,92.5 525.5,95.0 527.0,94.0 528.5,91.0 529.9,87.5 530.0,87.5 531.5,90.0 533.0,91.5 534.0,90.0 535.0,92.0 536.5,90.5 538.0,91.5 539.5,89.5 541.0,90.0 542.5,91.0 544.0,90.0 546.0,89.5 548.0,90.0 550.0,90.5 552.0,92.0 553.5,89.5 555.0,89.0 556.5,88.0 558.0,88.5 559.5,90.5 561.0,93.5 562.5,95.5 564.0,97.5 565.5,101.0 566.8,99.0 568.0,97.5 569.5,100.0 570.5,99.0 571.8,102.5 573.0,106.5 574.0,103.0 575.0,99.0 576.2,98.5 577.5,100.0 578.5,102.5 579.5,100.5 580.5,98.0 581.5,100.0 582.5,99.0 584.0,97.5 585.5,96.5 587.0,97.5 588.5,99.0 590.0,101.0 591.5,102.0 592.8,101.5 594.0,103.5 595.5,101.5 597.0,100.0 598.5,101.0 599.9,102.0 600.0,101.0 602.0,102.3 603.3,97.0 604.7,94.3 606.7,93.7 608.0,92.3 609.3,96.3 610.7,103.7 612.0,112.3 613.3,117.7 614.7,119.0 616.7,117.0 618.7,115.0 620.7,110.3 622.0,109.0 624.0,105.7 626.0,103.7 628.0,101.7 630.0,102.3 631.6,101.0 632.9,100.3 634.7,105.0 636.7,107.0 638.7,107.7 640.0,104.3 641.3,99.0 642.7,96.3 644.0,103.0 645.3,111.0 646.7,119.7 648.0,127.7 648.8,126.3" fill="none" stroke="#200000" stroke-width="1.1" stroke-linejoin="round"/><clipPath id="cr2"><rect x="0" y="0" width="577.30" height="450"/></clipPath><clipPath id="co2"><rect x="577.30" y="0" width="200" height="450"/></clipPath><polygon points="81.5,318.3 82.7,317.0 84.0,320.3 85.3,319.0 86.4,323.0 87.7,326.3 88.7,321.0 90.0,327.0 91.7,319.7 93.3,320.3 94.7,323.7 95.7,321.7 97.3,330.3 98.7,322.3 99.7,321.0 100.7,314.3 101.6,322.3 102.7,317.7 104.0,323.0 105.3,319.7 106.4,318.3 107.7,321.0 109.1,316.3 110.4,314.3 111.7,318.3 112.7,317.7 114.0,323.7 115.3,326.3 116.4,321.0 117.3,325.7 118.0,295.0 118.9,280.3 119.7,292.3 120.3,296.3 120.7,347.0 121.2,287.0 121.7,285.7 122.4,301.7 122.7,325.7 124.0,326.3 126.0,324.3 126.9,317.7 128.0,324.3 129.3,329.7 130.7,333.7 131.7,325.7 133.1,317.7 134.0,320.3 134.9,313.0 136.0,319.0 137.3,315.7 138.7,314.3 140.0,312.3 141.1,311.0 142.4,315.0 143.3,313.0 144.3,306.3 145.3,313.7 146.7,317.7 148.0,319.0 149.3,322.3 150.3,325.0 151.7,319.0 153.0,319.0 154.3,325.7 155.9,333.0 157.7,329.0 159.0,326.3 160.7,320.3 162.3,311.0 163.7,323.0 165.0,319.0 166.6,310.3 167.9,317.7 169.7,321.7 171.4,326.3 172.7,321.7 174.1,317.7 175.4,325.0 177.0,326.3 178.6,327.7 179.9,333.0 181.3,328.3 182.3,333.7 183.7,342.3 185.0,327.0 186.3,323.0 187.7,329.7 189.0,336.3 190.3,334.3 191.7,337.7 193.3,340.3 194.6,345.0 195.7,341.7 197.0,347.7 198.3,350.3 199.9,353.0 201.7,348.3 203.0,335.0 204.3,337.7 206.1,339.0 207.7,343.7 209.0,346.3 210.3,349.7 212.3,352.3 214.3,353.7 215.1,360.3 216.7,359.0 218.3,357.7 219.6,357.0 220.9,359.7 222.3,353.7 223.3,349.9 224.9,351.7 226.7,354.3 228.7,354.3 230.7,355.7 232.7,356.3 234.3,355.7 236.0,359.7 237.3,361.7 238.3,357.7 239.3,361.0 240.7,355.0 242.0,349.0 243.3,343.7 244.4,341.7 245.3,342.3 246.3,347.0 247.6,340.3 248.9,347.0 250.7,347.7 252.0,354.3 253.7,353.7 255.3,351.0 257.3,350.3 259.3,349.0 260.9,345.7 262.3,341.7 263.3,347.0 264.7,348.3 266.0,351.7 267.3,345.7 268.7,335.0 270.0,326.3 271.1,324.3 272.0,329.7 273.3,338.3 274.7,332.3 276.0,326.3 277.3,327.0 278.7,331.0 279.9,333.7 280.6,337.0 281.9,338.3 283.3,345.0 284.6,344.3 286.3,345.0 287.7,340.3 289.0,339.7 290.3,347.0 291.7,343.7 293.0,343.0 294.3,339.7 296.1,341.0 297.7,341.7 299.3,337.7 301.0,340.3 302.3,349.7 303.3,351.7 304.6,347.7 305.9,345.7 307.0,349.0 308.3,346.3 309.0,334.3 309.9,320.3 310.7,336.3 312.1,337.7 313.0,343.7 314.3,348.3 315.7,353.7 317.0,345.0 317.9,332.3 318.7,339.0 319.7,327.0 320.6,314.3 321.7,316.3 323.0,310.3 324.1,317.7 325.4,325.0 326.3,332.3 327.7,313.0 329.0,313.0 330.3,318.3 331.7,323.0 333.0,330.3 334.3,338.3 335.7,340.3 336.6,342.3 337.7,331.7 338.7,329.7 340.1,333.7 341.0,339.7 342.3,344.3 343.7,347.7 344.9,346.3 346.4,339.7 348.0,335.0 349.6,329.7 350.7,330.3 352.0,333.7 353.3,327.7 354.7,321.0 356.0,318.3 357.3,319.7 358.4,326.3 359.7,330.3 360.7,337.0 362.0,341.7 362.9,335.0 364.0,338.3 365.1,337.0 366.0,329.0 367.3,319.7 368.3,316.3 369.3,317.7 370.4,313.7 371.7,318.3 373.1,320.3 374.4,322.3 375.7,325.0 377.1,329.0 378.4,333.7 379.7,337.7 381.1,334.3 382.4,332.3 383.7,327.0 385.1,323.7 386.0,326.3 386.9,333.7 388.3,336.3 389.6,341.0 391.3,340.3 393.1,339.7 394.4,335.7 395.3,340.3 396.7,345.7 398.0,348.3 399.3,347.0 400.7,339.0 402.0,331.0 403.3,322.3 404.3,317.0 405.3,313.0 406.4,318.3 407.3,324.3 408.7,325.7 409.9,326.3 410.6,327.0 412.0,332.0 413.4,317.0 415.0,318.0 416.6,322.0 418.0,329.0 419.4,328.0 420.6,334.0 421.4,311.0 422.2,288.0 423.0,305.0 424.0,321.0 424.6,336.0 425.6,308.0 426.6,318.0 427.6,321.0 428.6,325.0 429.4,334.0 430.2,309.0 431.0,292.0 431.6,287.0 432.6,297.0 433.4,317.0 434.6,335.0 436.0,337.0 437.0,328.0 438.6,328.0 440.0,329.0 441.4,338.0 442.6,343.0 444.0,335.0 445.4,332.0 447.4,326.6 449.0,330.0 450.6,338.0 452.0,335.0 453.4,337.0 454.6,329.0 456.2,333.0 458.0,333.0 459.4,335.0 461.0,342.0 463.0,347.0 465.0,349.0 467.0,348.0 469.0,351.0 471.0,352.0 473.0,355.0 474.8,354.0 476.0,354.0 478.0,355.3 480.0,357.3 482.0,358.7 484.0,360.0 486.0,361.3 488.0,362.0 489.3,363.3 490.0,358.7 491.1,362.0 492.4,360.7 493.3,361.3 494.0,356.7 495.1,358.7 496.7,356.0 498.0,350.0 499.1,346.0 500.4,348.0 501.3,346.7 502.7,351.3 504.0,354.7 504.9,356.0 506.0,349.3 507.1,346.7 508.4,348.7 510.0,351.3 511.6,353.3 512.9,355.3 514.0,353.3 515.3,356.7 516.9,355.3 518.7,354.7 520.0,351.3 521.3,354.7 522.3,348.0 523.3,356.0 524.7,352.0 526.0,352.0 527.6,354.7 529.3,358.7 530.7,358.0 532.7,356.7 534.7,356.0 536.0,358.0 537.3,357.3 538.7,358.7 539.9,358.7 540.3,358.7 542.3,357.3 544.3,358.7 546.3,358.0 548.3,357.3 550.3,358.0 551.7,353.3 553.0,358.0 555.0,356.7 556.3,360.0 558.3,358.7 559.7,356.0 561.0,353.3 562.7,352.7 564.1,350.7 565.4,346.0 566.7,344.7 568.1,346.7 569.4,343.3 570.7,344.0 572.1,339.3 573.4,335.3 574.7,342.0 576.1,344.7 577.7,342.7 579.3,347.3 580.6,349.3 582.3,346.7 584.1,350.0 585.7,350.7 587.3,349.3 588.3,351.3 589.7,346.0 591.0,347.3 592.3,342.7 593.7,346.7 595.0,343.3 596.6,346.7 598.3,344.0 600.1,342.7 601.4,342.0 602.7,344.7 604.1,350.0 604.9,351.3 607.2,354.4 609.4,352.2 611.0,337.8 612.8,328.9 615.0,323.3 617.2,323.3 619.4,328.9 621.7,333.3 623.9,338.9 626.1,341.1 628.3,343.3 630.6,342.2 632.8,343.3 634.6,334.4 636.1,333.3 637.7,335.6 639.4,333.3 641.2,342.2 642.8,347.8 644.3,337.8 646.1,324.4 647.9,314.4 648.8,313.3 648.8,384.4 646.1,380.0 643.9,374.4 642.1,370.0 639.4,372.2 637.2,374.4 633.9,372.2 630.6,373.3 627.2,374.4 623.9,375.6 620.6,376.7 617.2,378.9 615.0,381.1 612.8,380.0 610.6,375.6 608.3,371.1 606.1,368.9 604.9,370.0 603.0,370.7 601.7,374.0 600.3,373.3 598.3,372.0 596.3,372.7 594.3,374.0 592.3,375.3 590.3,374.7 588.3,372.7 586.3,371.3 584.3,372.7 582.3,372.0 580.3,373.3 578.3,372.7 576.3,370.7 574.3,371.3 573.0,374.0 571.0,373.3 569.0,371.3 567.0,372.7 565.0,371.3 563.0,372.7 561.0,370.7 559.0,368.7 557.0,367.3 555.0,368.0 553.0,369.3 551.0,368.7 548.3,368.9 545.7,368.7 543.0,368.0 540.3,368.7 539.9,368.0 538.0,368.7 536.0,368.0 534.7,369.3 533.3,368.7 531.3,367.3 529.3,367.3 527.3,368.0 526.0,368.7 524.7,370.7 523.6,367.3 522.7,370.7 521.3,366.7 520.4,368.7 518.7,368.0 516.7,366.7 514.7,368.7 512.7,368.7 510.7,369.3 508.7,370.0 506.7,371.3 505.7,368.0 504.0,369.3 502.3,370.0 500.9,372.0 499.6,374.0 498.7,372.0 497.3,369.3 495.3,368.0 493.3,366.7 491.3,366.0 489.7,365.3 488.0,364.9 486.0,365.3 483.3,366.0 480.7,366.3 478.0,366.0 476.0,366.7 474.9,367.3 473.3,368.0 471.7,369.3 469.7,370.7 467.7,370.7 465.7,372.0 463.7,372.0 461.7,373.3 459.7,376.7 457.7,378.0 455.7,377.3 453.7,376.0 451.9,375.3 450.3,376.7 449.0,373.3 447.7,368.7 446.1,370.0 444.3,372.0 442.6,373.3 441.0,375.3 439.4,378.0 438.1,380.0 437.0,372.0 435.9,372.7 434.3,374.7 433.3,380.0 432.3,393.3 431.4,399.3 430.3,384.0 429.3,374.0 427.7,376.0 426.3,379.3 425.3,382.7 424.3,370.7 423.7,374.7 423.0,381.3 422.1,396.0 421.0,381.3 419.9,374.0 418.3,372.7 417.0,375.3 415.4,380.0 413.7,381.3 412.3,378.0 411.0,380.0 409.9,379.3 408.3,380.0 406.7,380.0 405.3,382.7 404.3,380.0 402.9,378.0 401.3,375.3 399.7,373.3 398.0,372.0 396.7,373.3 395.3,378.7 394.0,376.0 392.7,375.3 390.9,373.3 389.3,374.7 387.7,376.7 386.4,375.3 385.1,380.7 383.3,376.7 382.0,374.0 380.7,375.3 378.9,374.7 377.3,376.7 375.7,379.3 374.0,380.7 372.3,379.3 370.9,382.0 369.6,379.3 368.0,378.0 366.0,378.7 364.0,378.0 362.4,377.3 361.1,374.0 359.7,374.7 358.0,378.7 356.3,379.3 354.7,382.0 353.3,380.0 351.3,378.7 349.3,376.0 347.3,373.3 345.3,371.3 344.3,370.0 342.3,370.0 340.3,372.0 338.7,375.3 337.0,371.3 335.3,370.0 333.9,372.0 332.3,378.0 330.7,379.3 329.4,383.3 328.1,380.7 326.7,376.0 325.4,372.0 323.7,376.7 321.9,378.0 320.6,382.7 319.3,377.3 317.7,374.7 316.1,369.3 314.3,368.0 312.6,368.7 311.0,370.7 310.1,380.0 309.0,370.0 307.7,366.0 306.3,368.7 304.3,370.0 302.7,368.7 301.0,371.3 299.0,370.7 297.0,370.0 295.0,369.3 293.0,368.0 291.7,372.0 289.9,365.3 288.3,367.3 287.0,370.0 285.4,372.7 283.7,371.3 282.3,373.3 280.6,376.0 279.9,379.3 278.7,381.3 276.9,382.0 275.3,380.0 273.3,376.7 271.3,374.7 269.3,374.0 267.3,372.7 265.3,371.3 263.3,372.7 260.7,372.0 258.0,371.3 256.0,370.0 254.0,368.7 252.0,368.0 250.0,371.3 248.0,372.7 246.0,372.0 244.0,370.7 242.0,371.3 240.0,368.0 238.0,367.3 236.0,366.0 234.7,364.0 233.3,365.3 231.3,366.0 229.3,367.3 227.3,369.3 225.3,370.0 223.3,371.3 222.0,370.7 220.0,369.3 218.0,367.3 216.0,367.3 214.3,368.7 212.3,370.0 210.3,371.3 208.3,372.0 206.6,373.3 205.0,375.3 203.4,377.3 202.1,373.3 200.7,366.0 199.4,362.0 198.1,362.7 196.3,364.0 194.6,364.7 192.7,366.0 191.0,366.7 189.3,368.7 187.9,372.7 186.6,368.0 185.3,370.0 183.9,375.3 182.6,379.3 181.0,383.3 179.4,380.7 177.7,381.3 175.9,380.0 174.3,382.7 173.3,379.3 172.3,376.0 171.0,377.3 169.7,381.3 167.9,385.3 166.3,388.7 164.7,386.7 163.4,383.3 162.1,390.7 160.7,384.0 159.0,380.0 157.3,381.3 155.7,380.7 154.1,384.7 152.3,382.0 151.0,380.0 149.9,380.0 148.3,379.3 146.7,378.0 145.3,375.3 144.0,379.3 142.7,373.3 141.3,376.0 140.0,373.3 138.7,372.0 137.6,376.7 136.7,375.3 135.3,371.3 134.0,367.3 132.7,363.3 132.0,368.7 130.9,367.3 129.6,365.3 128.7,368.0 127.7,374.7 126.4,372.0 125.1,372.7 123.7,371.3 122.5,373.3 122.0,360.0 121.6,348.3 121.2,348.3 120.7,360.0 120.3,373.3 119.3,378.7 118.7,366.0 117.7,364.7 117.1,380.0 116.0,382.0 114.9,376.7 114.0,379.3 112.7,381.3 110.9,383.3 109.3,382.0 108.0,382.7 106.7,380.0 105.3,385.3 104.0,382.7 102.7,384.0 101.3,381.3 100.0,382.7 98.7,380.7 97.1,378.9 95.3,380.7 94.0,382.7 92.7,384.7 91.3,379.3 89.6,382.0 88.7,383.3 87.7,381.3 86.7,384.7 85.6,389.3 84.0,391.3 82.7,392.7 81.5,393.3" fill="#ff2000" clip-path="url(#cr2)"/><polygon points="81.5,318.3 82.7,317.0 84.0,320.3 85.3,319.0 86.4,323.0 87.7,326.3 88.7,321.0 90.0,327.0 91.7,319.7 93.3,320.3 94.7,323.7 95.7,321.7 97.3,330.3 98.7,322.3 99.7,321.0 100.7,314.3 101.6,322.3 102.7,317.7 104.0,323.0 105.3,319.7 106.4,318.3 107.7,321.0 109.1,316.3 110.4,314.3 111.7,318.3 112.7,317.7 114.0,323.7 115.3,326.3 116.4,321.0 117.3,325.7 118.0,295.0 118.9,280.3 119.7,292.3 120.3,296.3 120.7,347.0 121.2,287.0 121.7,285.7 122.4,301.7 122.7,325.7 124.0,326.3 126.0,324.3 126.9,317.7 128.0,324.3 129.3,329.7 130.7,333.7 131.7,325.7 133.1,317.7 134.0,320.3 134.9,313.0 136.0,319.0 137.3,315.7 138.7,314.3 140.0,312.3 141.1,311.0 142.4,315.0 143.3,313.0 144.3,306.3 145.3,313.7 146.7,317.7 148.0,319.0 149.3,322.3 150.3,325.0 151.7,319.0 153.0,319.0 154.3,325.7 155.9,333.0 157.7,329.0 159.0,326.3 160.7,320.3 162.3,311.0 163.7,323.0 165.0,319.0 166.6,310.3 167.9,317.7 169.7,321.7 171.4,326.3 172.7,321.7 174.1,317.7 175.4,325.0 177.0,326.3 178.6,327.7 179.9,333.0 181.3,328.3 182.3,333.7 183.7,342.3 185.0,327.0 186.3,323.0 187.7,329.7 189.0,336.3 190.3,334.3 191.7,337.7 193.3,340.3 194.6,345.0 195.7,341.7 197.0,347.7 198.3,350.3 199.9,353.0 201.7,348.3 203.0,335.0 204.3,337.7 206.1,339.0 207.7,343.7 209.0,346.3 210.3,349.7 212.3,352.3 214.3,353.7 215.1,360.3 216.7,359.0 218.3,357.7 219.6,357.0 220.9,359.7 222.3,353.7 223.3,349.9 224.9,351.7 226.7,354.3 228.7,354.3 230.7,355.7 232.7,356.3 234.3,355.7 236.0,359.7 237.3,361.7 238.3,357.7 239.3,361.0 240.7,355.0 242.0,349.0 243.3,343.7 244.4,341.7 245.3,342.3 246.3,347.0 247.6,340.3 248.9,347.0 250.7,347.7 252.0,354.3 253.7,353.7 255.3,351.0 257.3,350.3 259.3,349.0 260.9,345.7 262.3,341.7 263.3,347.0 264.7,348.3 266.0,351.7 267.3,345.7 268.7,335.0 270.0,326.3 271.1,324.3 272.0,329.7 273.3,338.3 274.7,332.3 276.0,326.3 277.3,327.0 278.7,331.0 279.9,333.7 280.6,337.0 281.9,338.3 283.3,345.0 284.6,344.3 286.3,345.0 287.7,340.3 289.0,339.7 290.3,347.0 291.7,343.7 293.0,343.0 294.3,339.7 296.1,341.0 297.7,341.7 299.3,337.7 301.0,340.3 302.3,349.7 303.3,351.7 304.6,347.7 305.9,345.7 307.0,349.0 308.3,346.3 309.0,334.3 309.9,320.3 310.7,336.3 312.1,337.7 313.0,343.7 314.3,348.3 315.7,353.7 317.0,345.0 317.9,332.3 318.7,339.0 319.7,327.0 320.6,314.3 321.7,316.3 323.0,310.3 324.1,317.7 325.4,325.0 326.3,332.3 327.7,313.0 329.0,313.0 330.3,318.3 331.7,323.0 333.0,330.3 334.3,338.3 335.7,340.3 336.6,342.3 337.7,331.7 338.7,329.7 340.1,333.7 341.0,339.7 342.3,344.3 343.7,347.7 344.9,346.3 346.4,339.7 348.0,335.0 349.6,329.7 350.7,330.3 352.0,333.7 353.3,327.7 354.7,321.0 356.0,318.3 357.3,319.7 358.4,326.3 359.7,330.3 360.7,337.0 362.0,341.7 362.9,335.0 364.0,338.3 365.1,337.0 366.0,329.0 367.3,319.7 368.3,316.3 369.3,317.7 370.4,313.7 371.7,318.3 373.1,320.3 374.4,322.3 375.7,325.0 377.1,329.0 378.4,333.7 379.7,337.7 381.1,334.3 382.4,332.3 383.7,327.0 385.1,323.7 386.0,326.3 386.9,333.7 388.3,336.3 389.6,341.0 391.3,340.3 393.1,339.7 394.4,335.7 395.3,340.3 396.7,345.7 398.0,348.3 399.3,347.0 400.7,339.0 402.0,331.0 403.3,322.3 404.3,317.0 405.3,313.0 406.4,318.3 407.3,324.3 408.7,325.7 409.9,326.3 410.6,327.0 412.0,332.0 413.4,317.0 415.0,318.0 416.6,322.0 418.0,329.0 419.4,328.0 420.6,334.0 421.4,311.0 422.2,288.0 423.0,305.0 424.0,321.0 424.6,336.0 425.6,308.0 426.6,318.0 427.6,321.0 428.6,325.0 429.4,334.0 430.2,309.0 431.0,292.0 431.6,287.0 432.6,297.0 433.4,317.0 434.6,335.0 436.0,337.0 437.0,328.0 438.6,328.0 440.0,329.0 441.4,338.0 442.6,343.0 444.0,335.0 445.4,332.0 447.4,326.6 449.0,330.0 450.6,338.0 452.0,335.0 453.4,337.0 454.6,329.0 456.2,333.0 458.0,333.0 459.4,335.0 461.0,342.0 463.0,347.0 465.0,349.0 467.0,348.0 469.0,351.0 471.0,352.0 473.0,355.0 474.8,354.0 476.0,354.0 478.0,355.3 480.0,357.3 482.0,358.7 484.0,360.0 486.0,361.3 488.0,362.0 489.3,363.3 490.0,358.7 491.1,362.0 492.4,360.7 493.3,361.3 494.0,356.7 495.1,358.7 496.7,356.0 498.0,350.0 499.1,346.0 500.4,348.0 501.3,346.7 502.7,351.3 504.0,354.7 504.9,356.0 506.0,349.3 507.1,346.7 508.4,348.7 510.0,351.3 511.6,353.3 512.9,355.3 514.0,353.3 515.3,356.7 516.9,355.3 518.7,354.7 520.0,351.3 521.3,354.7 522.3,348.0 523.3,356.0 524.7,352.0 526.0,352.0 527.6,354.7 529.3,358.7 530.7,358.0 532.7,356.7 534.7,356.0 536.0,358.0 537.3,357.3 538.7,358.7 539.9,358.7 540.3,358.7 542.3,357.3 544.3,358.7 546.3,358.0 548.3,357.3 550.3,358.0 551.7,353.3 553.0,358.0 555.0,356.7 556.3,360.0 558.3,358.7 559.7,356.0 561.0,353.3 562.7,352.7 564.1,350.7 565.4,346.0 566.7,344.7 568.1,346.7 569.4,343.3 570.7,344.0 572.1,339.3 573.4,335.3 574.7,342.0 576.1,344.7 577.7,342.7 579.3,347.3 580.6,349.3 582.3,346.7 584.1,350.0 585.7,350.7 587.3,349.3 588.3,351.3 589.7,346.0 591.0,347.3 592.3,342.7 593.7,346.7 595.0,343.3 596.6,346.7 598.3,344.0 600.1,342.7 601.4,342.0 602.7,344.7 604.1,350.0 604.9,351.3 607.2,354.4 609.4,352.2 611.0,337.8 612.8,328.9 615.0,323.3 617.2,323.3 619.4,328.9 621.7,333.3 623.9,338.9 626.1,341.1 628.3,343.3 630.6,342.2 632.8,343.3 634.6,334.4 636.1,333.3 637.7,335.6 639.4,333.3 641.2,342.2 642.8,347.8 644.3,337.8 646.1,324.4 647.9,314.4 648.8,313.3 648.8,384.4 646.1,380.0 643.9,374.4 642.1,370.0 639.4,372.2 637.2,374.4 633.9,372.2 630.6,373.3 627.2,374.4 623.9,375.6 620.6,376.7 617.2,378.9 615.0,381.1 612.8,380.0 610.6,375.6 608.3,371.1 606.1,368.9 604.9,370.0 603.0,370.7 601.7,374.0 600.3,373.3 598.3,372.0 596.3,372.7 594.3,374.0 592.3,375.3 590.3,374.7 588.3,372.7 586.3,371.3 584.3,372.7 582.3,372.0 580.3,373.3 578.3,372.7 576.3,370.7 574.3,371.3 573.0,374.0 571.0,373.3 569.0,371.3 567.0,372.7 565.0,371.3 563.0,372.7 561.0,370.7 559.0,368.7 557.0,367.3 555.0,368.0 553.0,369.3 551.0,368.7 548.3,368.9 545.7,368.7 543.0,368.0 540.3,368.7 539.9,368.0 538.0,368.7 536.0,368.0 534.7,369.3 533.3,368.7 531.3,367.3 529.3,367.3 527.3,368.0 526.0,368.7 524.7,370.7 523.6,367.3 522.7,370.7 521.3,366.7 520.4,368.7 518.7,368.0 516.7,366.7 514.7,368.7 512.7,368.7 510.7,369.3 508.7,370.0 506.7,371.3 505.7,368.0 504.0,369.3 502.3,370.0 500.9,372.0 499.6,374.0 498.7,372.0 497.3,369.3 495.3,368.0 493.3,366.7 491.3,366.0 489.7,365.3 488.0,364.9 486.0,365.3 483.3,366.0 480.7,366.3 478.0,366.0 476.0,366.7 474.9,367.3 473.3,368.0 471.7,369.3 469.7,370.7 467.7,370.7 465.7,372.0 463.7,372.0 461.7,373.3 459.7,376.7 457.7,378.0 455.7,377.3 453.7,376.0 451.9,375.3 450.3,376.7 449.0,373.3 447.7,368.7 446.1,370.0 444.3,372.0 442.6,373.3 441.0,375.3 439.4,378.0 438.1,380.0 437.0,372.0 435.9,372.7 434.3,374.7 433.3,380.0 432.3,393.3 431.4,399.3 430.3,384.0 429.3,374.0 427.7,376.0 426.3,379.3 425.3,382.7 424.3,370.7 423.7,374.7 423.0,381.3 422.1,396.0 421.0,381.3 419.9,374.0 418.3,372.7 417.0,375.3 415.4,380.0 413.7,381.3 412.3,378.0 411.0,380.0 409.9,379.3 408.3,380.0 406.7,380.0 405.3,382.7 404.3,380.0 402.9,378.0 401.3,375.3 399.7,373.3 398.0,372.0 396.7,373.3 395.3,378.7 394.0,376.0 392.7,375.3 390.9,373.3 389.3,374.7 387.7,376.7 386.4,375.3 385.1,380.7 383.3,376.7 382.0,374.0 380.7,375.3 378.9,374.7 377.3,376.7 375.7,379.3 374.0,380.7 372.3,379.3 370.9,382.0 369.6,379.3 368.0,378.0 366.0,378.7 364.0,378.0 362.4,377.3 361.1,374.0 359.7,374.7 358.0,378.7 356.3,379.3 354.7,382.0 353.3,380.0 351.3,378.7 349.3,376.0 347.3,373.3 345.3,371.3 344.3,370.0 342.3,370.0 340.3,372.0 338.7,375.3 337.0,371.3 335.3,370.0 333.9,372.0 332.3,378.0 330.7,379.3 329.4,383.3 328.1,380.7 326.7,376.0 325.4,372.0 323.7,376.7 321.9,378.0 320.6,382.7 319.3,377.3 317.7,374.7 316.1,369.3 314.3,368.0 312.6,368.7 311.0,370.7 310.1,380.0 309.0,370.0 307.7,366.0 306.3,368.7 304.3,370.0 302.7,368.7 301.0,371.3 299.0,370.7 297.0,370.0 295.0,369.3 293.0,368.0 291.7,372.0 289.9,365.3 288.3,367.3 287.0,370.0 285.4,372.7 283.7,371.3 282.3,373.3 280.6,376.0 279.9,379.3 278.7,381.3 276.9,382.0 275.3,380.0 273.3,376.7 271.3,374.7 269.3,374.0 267.3,372.7 265.3,371.3 263.3,372.7 260.7,372.0 258.0,371.3 256.0,370.0 254.0,368.7 252.0,368.0 250.0,371.3 248.0,372.7 246.0,372.0 244.0,370.7 242.0,371.3 240.0,368.0 238.0,367.3 236.0,366.0 234.7,364.0 233.3,365.3 231.3,366.0 229.3,367.3 227.3,369.3 225.3,370.0 223.3,371.3 222.0,370.7 220.0,369.3 218.0,367.3 216.0,367.3 214.3,368.7 212.3,370.0 210.3,371.3 208.3,372.0 206.6,373.3 205.0,375.3 203.4,377.3 202.1,373.3 200.7,366.0 199.4,362.0 198.1,362.7 196.3,364.0 194.6,364.7 192.7,366.0 191.0,366.7 189.3,368.7 187.9,372.7 186.6,368.0 185.3,370.0 183.9,375.3 182.6,379.3 181.0,383.3 179.4,380.7 177.7,381.3 175.9,380.0 174.3,382.7 173.3,379.3 172.3,376.0 171.0,377.3 169.7,381.3 167.9,385.3 166.3,388.7 164.7,386.7 163.4,383.3 162.1,390.7 160.7,384.0 159.0,380.0 157.3,381.3 155.7,380.7 154.1,384.7 152.3,382.0 151.0,380.0 149.9,380.0 148.3,379.3 146.7,378.0 145.3,375.3 144.0,379.3 142.7,373.3 141.3,376.0 140.0,373.3 138.7,372.0 137.6,376.7 136.7,375.3 135.3,371.3 134.0,367.3 132.7,363.3 132.0,368.7 130.9,367.3 129.6,365.3 128.7,368.0 127.7,374.7 126.4,372.0 125.1,372.7 123.7,371.3 122.5,373.3 122.0,360.0 121.6,348.3 121.2,348.3 120.7,360.0 120.3,373.3 119.3,378.7 118.7,366.0 117.7,364.7 117.1,380.0 116.0,382.0 114.9,376.7 114.0,379.3 112.7,381.3 110.9,383.3 109.3,382.0 108.0,382.7 106.7,380.0 105.3,385.3 104.0,382.7 102.7,384.0 101.3,381.3 100.0,382.7 98.7,380.7 97.1,378.9 95.3,380.7 94.0,382.7 92.7,384.7 91.3,379.3 89.6,382.0 88.7,383.3 87.7,381.3 86.7,384.7 85.6,389.3 84.0,391.3 82.7,392.7 81.5,393.3" fill="#ffa000" clip-path="url(#co2)"/><polyline points="81.5,318.3 82.7,317.0 84.0,320.3 85.3,319.0 86.4,323.0 87.7,326.3 88.7,321.0 90.0,327.0 91.7,319.7 93.3,320.3 94.7,323.7 95.7,321.7 97.3,330.3 98.7,322.3 99.7,321.0 100.7,314.3 101.6,322.3 102.7,317.7 104.0,323.0 105.3,319.7 106.4,318.3 107.7,321.0 109.1,316.3 110.4,314.3 111.7,318.3 112.7,317.7 114.0,323.7 115.3,326.3 116.4,321.0 117.3,325.7 118.0,295.0 118.9,280.3 119.7,292.3 120.3,296.3 120.7,347.0 121.2,287.0 121.7,285.7 122.4,301.7 122.7,325.7 124.0,326.3 126.0,324.3 126.9,317.7 128.0,324.3 129.3,329.7 130.7,333.7 131.7,325.7 133.1,317.7 134.0,320.3 134.9,313.0 136.0,319.0 137.3,315.7 138.7,314.3 140.0,312.3 141.1,311.0 142.4,315.0 143.3,313.0 144.3,306.3 145.3,313.7 146.7,317.7 148.0,319.0 149.3,322.3 150.3,325.0 151.7,319.0 153.0,319.0 154.3,325.7 155.9,333.0 157.7,329.0 159.0,326.3 160.7,320.3 162.3,311.0 163.7,323.0 165.0,319.0 166.6,310.3 167.9,317.7 169.7,321.7 171.4,326.3 172.7,321.7 174.1,317.7 175.4,325.0 177.0,326.3 178.6,327.7 179.9,333.0 181.3,328.3 182.3,333.7 183.7,342.3 185.0,327.0 186.3,323.0 187.7,329.7 189.0,336.3 190.3,334.3 191.7,337.7 193.3,340.3 194.6,345.0 195.7,341.7 197.0,347.7 198.3,350.3 199.9,353.0 201.7,348.3 203.0,335.0 204.3,337.7 206.1,339.0 207.7,343.7 209.0,346.3 210.3,349.7 212.3,352.3 214.3,353.7 215.1,360.3 216.7,359.0 218.3,357.7 219.6,357.0 220.9,359.7 222.3,353.7 223.3,349.9 224.9,351.7 226.7,354.3 228.7,354.3 230.7,355.7 232.7,356.3 234.3,355.7 236.0,359.7 237.3,361.7 238.3,357.7 239.3,361.0 240.7,355.0 242.0,349.0 243.3,343.7 244.4,341.7 245.3,342.3 246.3,347.0 247.6,340.3 248.9,347.0 250.7,347.7 252.0,354.3 253.7,353.7 255.3,351.0 257.3,350.3 259.3,349.0 260.9,345.7 262.3,341.7 263.3,347.0 264.7,348.3 266.0,351.7 267.3,345.7 268.7,335.0 270.0,326.3 271.1,324.3 272.0,329.7 273.3,338.3 274.7,332.3 276.0,326.3 277.3,327.0 278.7,331.0 279.9,333.7 280.6,337.0 281.9,338.3 283.3,345.0 284.6,344.3 286.3,345.0 287.7,340.3 289.0,339.7 290.3,347.0 291.7,343.7 293.0,343.0 294.3,339.7 296.1,341.0 297.7,341.7 299.3,337.7 301.0,340.3 302.3,349.7 303.3,351.7 304.6,347.7 305.9,345.7 307.0,349.0 308.3,346.3 309.0,334.3 309.9,320.3 310.7,336.3 312.1,337.7 313.0,343.7 314.3,348.3 315.7,353.7 317.0,345.0 317.9,332.3 318.7,339.0 319.7,327.0 320.6,314.3 321.7,316.3 323.0,310.3 324.1,317.7 325.4,325.0 326.3,332.3 327.7,313.0 329.0,313.0 330.3,318.3 331.7,323.0 333.0,330.3 334.3,338.3 335.7,340.3 336.6,342.3 337.7,331.7 338.7,329.7 340.1,333.7 341.0,339.7 342.3,344.3 343.7,347.7 344.9,346.3 346.4,339.7 348.0,335.0 349.6,329.7 350.7,330.3 352.0,333.7 353.3,327.7 354.7,321.0 356.0,318.3 357.3,319.7 358.4,326.3 359.7,330.3 360.7,337.0 362.0,341.7 362.9,335.0 364.0,338.3 365.1,337.0 366.0,329.0 367.3,319.7 368.3,316.3 369.3,317.7 370.4,313.7 371.7,318.3 373.1,320.3 374.4,322.3 375.7,325.0 377.1,329.0 378.4,333.7 379.7,337.7 381.1,334.3 382.4,332.3 383.7,327.0 385.1,323.7 386.0,326.3 386.9,333.7 388.3,336.3 389.6,341.0 391.3,340.3 393.1,339.7 394.4,335.7 395.3,340.3 396.7,345.7 398.0,348.3 399.3,347.0 400.7,339.0 402.0,331.0 403.3,322.3 404.3,317.0 405.3,313.0 406.4,318.3 407.3,324.3 408.7,325.7 409.9,326.3 410.6,327.0 412.0,332.0 413.4,317.0 415.0,318.0 416.6,322.0 418.0,329.0 419.4,328.0 420.6,334.0 421.4,311.0 422.2,288.0 423.0,305.0 424.0,321.0 424.6,336.0 425.6,308.0 426.6,318.0 427.6,321.0 428.6,325.0 429.4,334.0 430.2,309.0 431.0,292.0 431.6,287.0 432.6,297.0 433.4,317.0 434.6,335.0 436.0,337.0 437.0,328.0 438.6,328.0 440.0,329.0 441.4,338.0 442.6,343.0 444.0,335.0 445.4,332.0 447.4,326.6 449.0,330.0 450.6,338.0 452.0,335.0 453.4,337.0 454.6,329.0 456.2,333.0 458.0,333.0 459.4,335.0 461.0,342.0 463.0,347.0 465.0,349.0 467.0,348.0 469.0,351.0 471.0,352.0 473.0,355.0 474.8,354.0 476.0,354.0 478.0,355.3 480.0,357.3 482.0,358.7 484.0,360.0 486.0,361.3 488.0,362.0 489.3,363.3 490.0,358.7 491.1,362.0 492.4,360.7 493.3,361.3 494.0,356.7 495.1,358.7 496.7,356.0 498.0,350.0 499.1,346.0 500.4,348.0 501.3,346.7 502.7,351.3 504.0,354.7 504.9,356.0 506.0,349.3 507.1,346.7 508.4,348.7 510.0,351.3 511.6,353.3 512.9,355.3 514.0,353.3 515.3,356.7 516.9,355.3 518.7,354.7 520.0,351.3 521.3,354.7 522.3,348.0 523.3,356.0 524.7,352.0 526.0,352.0 527.6,354.7 529.3,358.7 530.7,358.0 532.7,356.7 534.7,356.0 536.0,358.0 537.3,357.3 538.7,358.7 539.9,358.7 540.3,358.7 542.3,357.3 544.3,358.7 546.3,358.0 548.3,357.3 550.3,358.0 551.7,353.3 553.0,358.0 555.0,356.7 556.3,360.0 558.3,358.7 559.7,356.0 561.0,353.3 562.7,352.7 564.1,350.7 565.4,346.0 566.7,344.7 568.1,346.7 569.4,343.3 570.7,344.0 572.1,339.3 573.4,335.3 574.7,342.0 576.1,344.7 577.7,342.7 579.3,347.3 580.6,349.3 582.3,346.7 584.1,350.0 585.7,350.7 587.3,349.3 588.3,351.3 589.7,346.0 591.0,347.3 592.3,342.7 593.7,346.7 595.0,343.3 596.6,346.7 598.3,344.0 600.1,342.7 601.4,342.0 602.7,344.7 604.1,350.0 604.9,351.3 607.2,354.4 609.4,352.2 611.0,337.8 612.8,328.9 615.0,323.3 617.2,323.3 619.4,328.9 621.7,333.3 623.9,338.9 626.1,341.1 628.3,343.3 630.6,342.2 632.8,343.3 634.6,334.4 636.1,333.3 637.7,335.6 639.4,333.3 641.2,342.2 642.8,347.8 644.3,337.8 646.1,324.4 647.9,314.4 648.8,313.3" fill="none" stroke="#200000" stroke-width="1.1" stroke-linejoin="round"/><polyline points="81.5,393.3 82.7,392.7 84.0,391.3 85.6,389.3 86.7,384.7 87.7,381.3 88.7,383.3 89.6,382.0 91.3,379.3 92.7,384.7 94.0,382.7 95.3,380.7 97.1,378.9 98.7,380.7 100.0,382.7 101.3,381.3 102.7,384.0 104.0,382.7 105.3,385.3 106.7,380.0 108.0,382.7 109.3,382.0 110.9,383.3 112.7,381.3 114.0,379.3 114.9,376.7 116.0,382.0 117.1,380.0 117.7,364.7 118.7,366.0 119.3,378.7 120.3,373.3 120.7,360.0 121.2,348.3 121.6,348.3 122.0,360.0 122.5,373.3 123.7,371.3 125.1,372.7 126.4,372.0 127.7,374.7 128.7,368.0 129.6,365.3 130.9,367.3 132.0,368.7 132.7,363.3 134.0,367.3 135.3,371.3 136.7,375.3 137.6,376.7 138.7,372.0 140.0,373.3 141.3,376.0 142.7,373.3 144.0,379.3 145.3,375.3 146.7,378.0 148.3,379.3 149.9,380.0 151.0,380.0 152.3,382.0 154.1,384.7 155.7,380.7 157.3,381.3 159.0,380.0 160.7,384.0 162.1,390.7 163.4,383.3 164.7,386.7 166.3,388.7 167.9,385.3 169.7,381.3 171.0,377.3 172.3,376.0 173.3,379.3 174.3,382.7 175.9,380.0 177.7,381.3 179.4,380.7 181.0,383.3 182.6,379.3 183.9,375.3 185.3,370.0 186.6,368.0 187.9,372.7 189.3,368.7 191.0,366.7 192.7,366.0 194.6,364.7 196.3,364.0 198.1,362.7 199.4,362.0 200.7,366.0 202.1,373.3 203.4,377.3 205.0,375.3 206.6,373.3 208.3,372.0 210.3,371.3 212.3,370.0 214.3,368.7 216.0,367.3 218.0,367.3 220.0,369.3 222.0,370.7 223.3,371.3 225.3,370.0 227.3,369.3 229.3,367.3 231.3,366.0 233.3,365.3 234.7,364.0 236.0,366.0 238.0,367.3 240.0,368.0 242.0,371.3 244.0,370.7 246.0,372.0 248.0,372.7 250.0,371.3 252.0,368.0 254.0,368.7 256.0,370.0 258.0,371.3 260.7,372.0 263.3,372.7 265.3,371.3 267.3,372.7 269.3,374.0 271.3,374.7 273.3,376.7 275.3,380.0 276.9,382.0 278.7,381.3 279.9,379.3 280.6,376.0 282.3,373.3 283.7,371.3 285.4,372.7 287.0,370.0 288.3,367.3 289.9,365.3 291.7,372.0 293.0,368.0 295.0,369.3 297.0,370.0 299.0,370.7 301.0,371.3 302.7,368.7 304.3,370.0 306.3,368.7 307.7,366.0 309.0,370.0 310.1,380.0 311.0,370.7 312.6,368.7 314.3,368.0 316.1,369.3 317.7,374.7 319.3,377.3 320.6,382.7 321.9,378.0 323.7,376.7 325.4,372.0 326.7,376.0 328.1,380.7 329.4,383.3 330.7,379.3 332.3,378.0 333.9,372.0 335.3,370.0 337.0,371.3 338.7,375.3 340.3,372.0 342.3,370.0 344.3,370.0 345.3,371.3 347.3,373.3 349.3,376.0 351.3,378.7 353.3,380.0 354.7,382.0 356.3,379.3 358.0,378.7 359.7,374.7 361.1,374.0 362.4,377.3 364.0,378.0 366.0,378.7 368.0,378.0 369.6,379.3 370.9,382.0 372.3,379.3 374.0,380.7 375.7,379.3 377.3,376.7 378.9,374.7 380.7,375.3 382.0,374.0 383.3,376.7 385.1,380.7 386.4,375.3 387.7,376.7 389.3,374.7 390.9,373.3 392.7,375.3 394.0,376.0 395.3,378.7 396.7,373.3 398.0,372.0 399.7,373.3 401.3,375.3 402.9,378.0 404.3,380.0 405.3,382.7 406.7,380.0 408.3,380.0 409.9,379.3 411.0,380.0 412.3,378.0 413.7,381.3 415.4,380.0 417.0,375.3 418.3,372.7 419.9,374.0 421.0,381.3 422.1,396.0 423.0,381.3 423.7,374.7 424.3,370.7 425.3,382.7 426.3,379.3 427.7,376.0 429.3,374.0 430.3,384.0 431.4,399.3 432.3,393.3 433.3,380.0 434.3,374.7 435.9,372.7 437.0,372.0 438.1,380.0 439.4,378.0 441.0,375.3 442.6,373.3 444.3,372.0 446.1,370.0 447.7,368.7 449.0,373.3 450.3,376.7 451.9,375.3 453.7,376.0 455.7,377.3 457.7,378.0 459.7,376.7 461.7,373.3 463.7,372.0 465.7,372.0 467.7,370.7 469.7,370.7 471.7,369.3 473.3,368.0 474.9,367.3 476.0,366.7 478.0,366.0 480.7,366.3 483.3,366.0 486.0,365.3 488.0,364.9 489.7,365.3 491.3,366.0 493.3,366.7 495.3,368.0 497.3,369.3 498.7,372.0 499.6,374.0 500.9,372.0 502.3,370.0 504.0,369.3 505.7,368.0 506.7,371.3 508.7,370.0 510.7,369.3 512.7,368.7 514.7,368.7 516.7,366.7 518.7,368.0 520.4,368.7 521.3,366.7 522.7,370.7 523.6,367.3 524.7,370.7 526.0,368.7 527.3,368.0 529.3,367.3 531.3,367.3 533.3,368.7 534.7,369.3 536.0,368.0 538.0,368.7 539.9,368.0 540.3,368.7 543.0,368.0 545.7,368.7 548.3,368.9 551.0,368.7 553.0,369.3 555.0,368.0 557.0,367.3 559.0,368.7 561.0,370.7 563.0,372.7 565.0,371.3 567.0,372.7 569.0,371.3 571.0,373.3 573.0,374.0 574.3,371.3 576.3,370.7 578.3,372.7 580.3,373.3 582.3,372.0 584.3,372.7 586.3,371.3 588.3,372.7 590.3,374.7 592.3,375.3 594.3,374.0 596.3,372.7 598.3,372.0 600.3,373.3 601.7,374.0 603.0,370.7 604.9,370.0 606.1,368.9 608.3,371.1 610.6,375.6 612.8,380.0 615.0,381.1 617.2,378.9 620.6,376.7 623.9,375.6 627.2,374.4 630.6,373.3 633.9,372.2 637.2,374.4 639.4,372.2 642.1,370.0 643.9,374.4 646.1,380.0 648.8,384.4" fill="none" stroke="#200000" stroke-width="1.1" stroke-linejoin="round"/><rect x="81.2" y="234.1" width="496.10" height="6.4" fill="#ff2000"/><rect x="577.30" y="234.1" width="71.50" height="6.4" fill="#ffa000"/><rect x="81.2" y="234.1" width="567.6" height="6.4" fill="none" stroke="#000" stroke-opacity="0.3" stroke-width="0.7"/><g font-size="11.6" text-anchor="end" font-weight="bold" letter-spacing="0.85"><text x="75.6" y="31.0">100<tspan dx="0.7">0</tspan></text><text x="75.6" y="59.3">50<tspan dx="0.7">0</tspan></text><text x="75.6" y="87.7">0</text><text x="75.6" y="116.0"><tspan dy="-0.7">-</tspan><tspan dx="2.1" dy="0.7">50<tspan dx="0.7">0</tspan></tspan></text><text x="75.6" y="144.4"><tspan dy="-0.7">-</tspan><tspan dx="2.1" dy="0.7">100<tspan dx="0.7">0</tspan></tspan></text><text x="75.6" y="172.8"><tspan dy="-0.7">-</tspan><tspan dx="2.1" dy="0.7">150<tspan dx="0.7">0</tspan></tspan></text><text x="75.6" y="201.1"><tspan dy="-0.7">-</tspan><tspan dx="2.1" dy="0.7">200<tspan dx="0.7">0</tspan></tspan></text><text x="76.4" y="43.8" letter-spacing="0.5">(nT)</text></g><g font-size="11.6" text-anchor="end" font-weight="bold" letter-spacing="0.85"><text x="75.6" y="257.5">200<tspan dx="0.7">0</tspan></text><text x="75.6" y="285.7">150<tspan dx="0.7">0</tspan></text><text x="75.6" y="313.9">100<tspan dx="0.7">0</tspan></text><text x="75.6" y="342.1">50<tspan dx="0.7">0</tspan></text><text x="75.6" y="370.3">0</text><text x="75.6" y="398.5"><tspan dy="-0.7">-</tspan><tspan dx="2.1" dy="0.7">50<tspan dx="0.7">0</tspan></tspan></text><text x="76.4" y="270.0" letter-spacing="0.5">(nT)</text></g><g font-size="12" font-weight="bold" text-anchor="middle" letter-spacing="0.2"><text x="80.9" y="207.9">00</text><text x="222.7" y="207.9">06</text><text x="364.5" y="207.9">12</text><text x="506.4" y="207.9">18</text><text x="648.2" y="207.9">24</text><text x="352.8" y="221.9" font-size="14.2" letter-spacing="0.6" text-anchor="start">U T</text></g><g font-size="12" font-weight="bold" text-anchor="middle" letter-spacing="0.2"><text x="80.9" y="406.8">00</text><text x="222.7" y="406.8">06</text><text x="364.5" y="406.8">12</text><text x="506.4" y="406.8">18</text><text x="648.2" y="406.8">24</text><text x="352.8" y="420.8" font-size="14.2" letter-spacing="0.6" text-anchor="start">U T</text></g><g font-size="11.8" text-anchor="end" font-weight="bold" letter-spacing="0.7"><text x="670.4" y="65.0" fill="#ff1090">12</text><text x="670.4" y="77.1" fill="#ff2000">11</text><text x="670.4" y="89.1" fill="#ff9000">10</text><text x="670.4" y="101.2" fill="#ffff00">9</text><text x="670.4" y="113.3" fill="#90ff20">8</text><text x="670.4" y="125.3" fill="#10f8d0">7</text><text x="670.4" y="137.4" fill="#1060ff">6</text><text x="670.4" y="149.5" fill="#3000ff">5</text><text x="670.4" y="161.6" fill="#ff00ff">4</text><text x="670.4" y="173.6" fill="#000000">3</text><text x="670.4" y="185.7" fill="#606060">2</text><text x="670.4" y="197.8" fill="#c8c8c8">1</text></g><g font-size="11.8" text-anchor="end" font-weight="bold" letter-spacing="0.7"><text x="670.4" y="263.2" fill="#ff1090">12</text><text x="670.4" y="275.2" fill="#ff2000">11</text><text x="670.4" y="287.3" fill="#ff9000">10</text><text x="670.4" y="299.4" fill="#ffff00">9</text><text x="670.4" y="311.4" fill="#90ff20">8</text><text x="670.4" y="323.4" fill="#10f8d0">7</text><text x="670.4" y="335.5" fill="#1060ff">6</text><text x="670.4" y="347.6" fill="#3000ff">5</text><text x="670.4" y="359.6" fill="#ff00ff">4</text><text x="670.4" y="371.6" fill="#000000">3</text><text x="670.4" y="383.7" fill="#606060">2</text><text x="670.4" y="395.8" fill="#c8c8c8">1</text></g><g font-weight="bold"><text x="82.3" y="21.2" font-size="20.95">2026/03/14</text><text x="236.3" y="21.2" font-size="21.25">AE(11) (Real-Time)</text><text x="479.3" y="21.8" font-size="11.25">WDC for Geomagnetism, Kyoto</text><text transform="translate(11.2,70) scale(1,1.07)" font-size="21.3">AU</text><text transform="translate(11.2,121) scale(1,1.07)" font-size="21.3">AL</text><text transform="translate(11.2,345.8) scale(1,1.07)" font-size="21.3">AE</text><text transform="translate(11.2,388.8) scale(1,1.07)" font-size="21.3">AO</text><text x="479.5" y="443.0" font-size="11.25">[Created at 2026-03-15 03:40UT]</text></g>
</svg>
</body></html>
